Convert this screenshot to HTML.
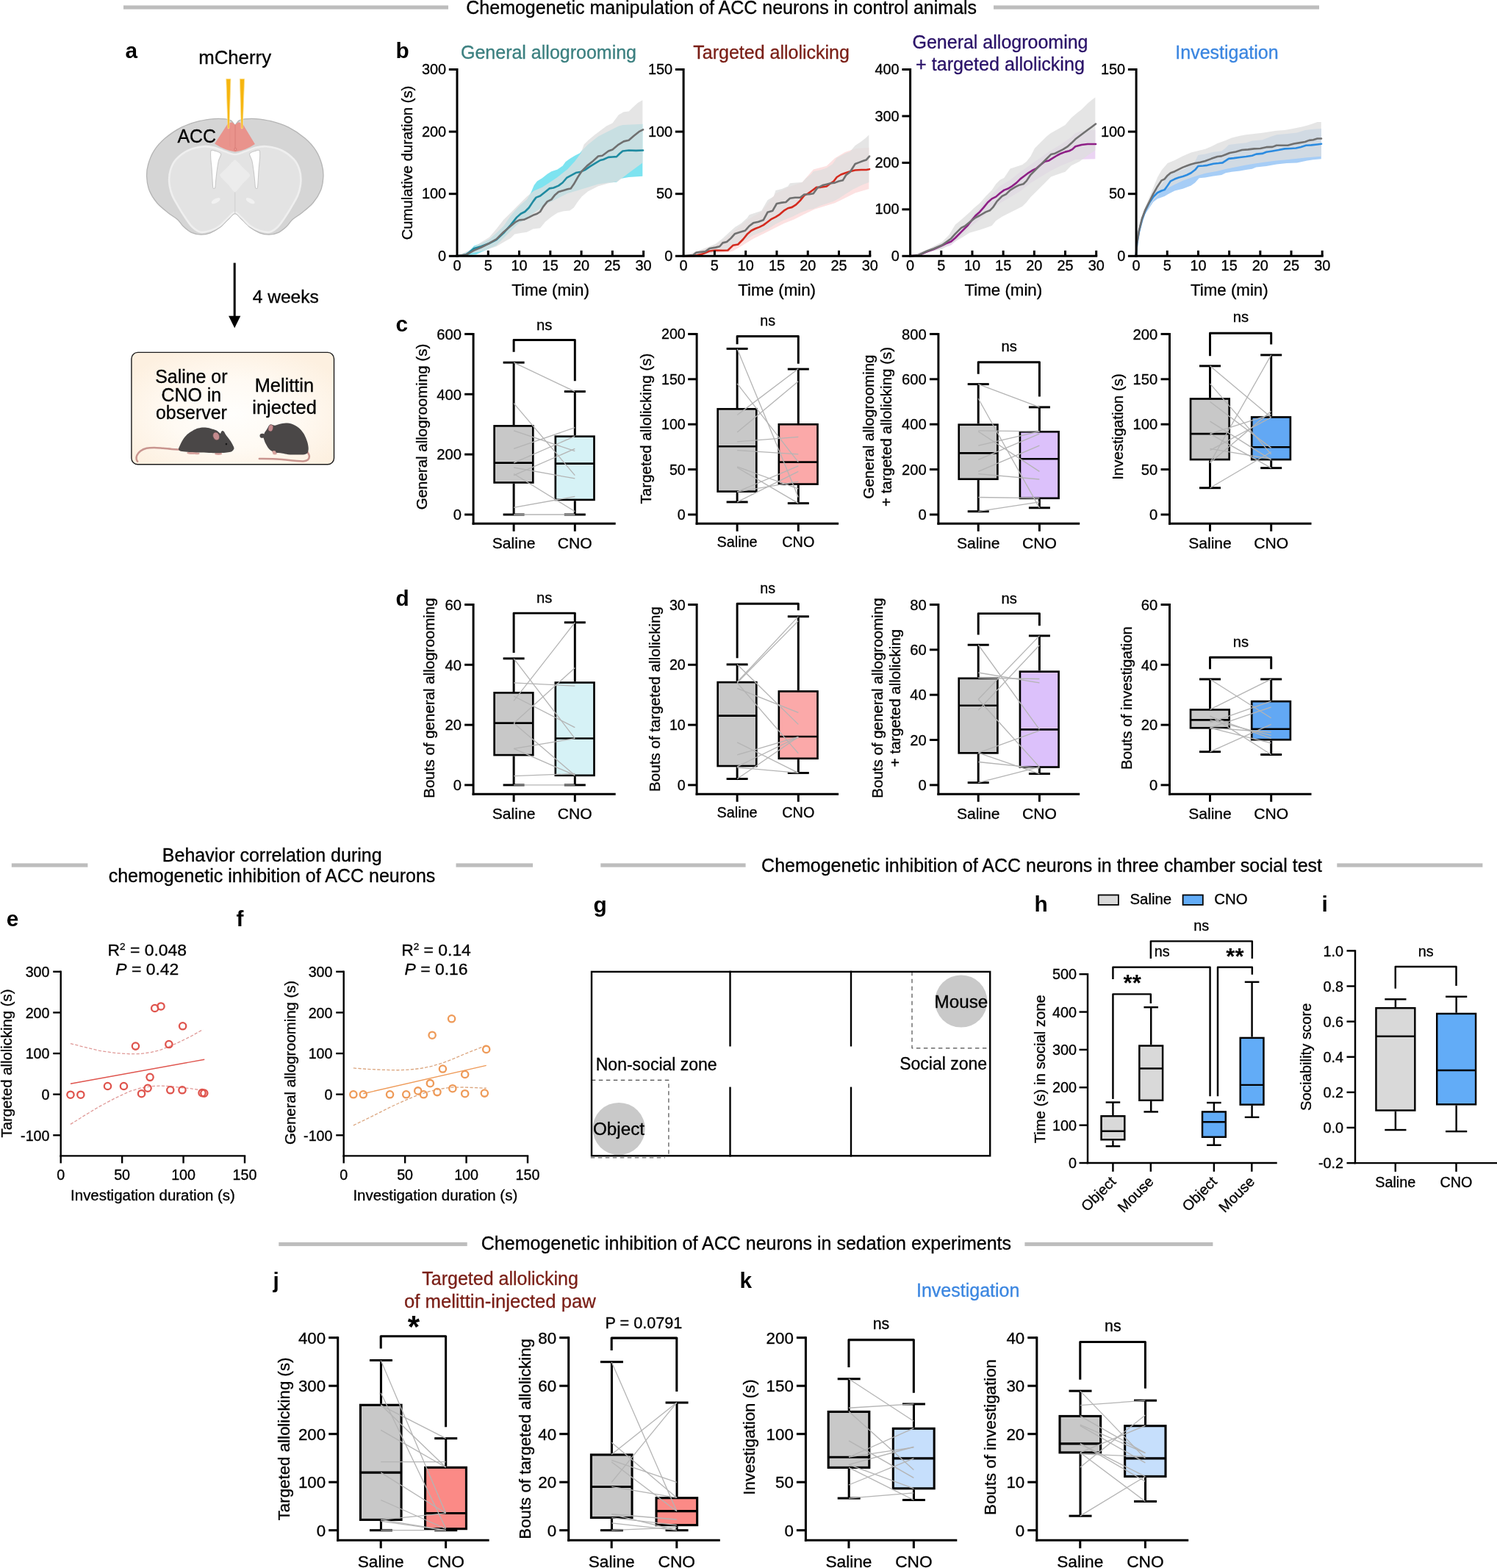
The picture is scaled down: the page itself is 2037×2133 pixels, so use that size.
<!DOCTYPE html>
<html lang="en"><head><meta charset="utf-8"><title>Chemogenetic manipulation of ACC neurons</title>
<style>
html,body{margin:0;padding:0;background:#fff;}
body{width:2037px;height:2133px;overflow:hidden;}
svg{display:block;font-family:'Liberation Sans', sans-serif;}
text{white-space:pre;}
</style></head><body>
<svg width="2037" height="2133" viewBox="0 0 2037 2133">
<rect x="0" y="0" width="2037" height="2133" fill="#fff"/>
<!-- 05_panel_a.py -->
<defs><radialGradient id="cage" cx="50%" cy="55%" r="62%"><stop offset="0" stop-color="#fffefc"/><stop offset="0.5" stop-color="#fffaf3"/><stop offset="1" stop-color="#fdf0e0"/></radialGradient></defs>
<path d="M319.78 169.78 C318.03 169.78 316.73 165.49 314.55 164.18 C312.38 162.87 310.51 162.38 306.72 161.94 C302.92 161.5 297.7 161.1 291.79 161.57 C285.88 162.03 278.73 162.81 271.27 164.74 C263.81 166.67 254.79 169.25 247.01 173.13 C239.24 177.02 230.85 182.77 224.63 188.06 C218.41 193.35 213.53 198.94 209.7 204.85 C205.88 210.76 203.36 217.6 201.68 223.51 C200 229.42 199.38 234.39 199.63 240.3 C199.88 246.21 200.87 253.05 203.17 258.96 C205.47 264.86 209.24 270.71 213.43 275.75 C217.63 280.78 223.69 285.39 228.36 289.18 C233.02 292.97 237.94 295.4 241.42 298.51 C244.9 301.62 246.14 304.91 249.25 307.84 C252.36 310.76 256.09 314.18 260.07 316.04 C264.05 317.91 268.78 318.91 273.13 319.03 C277.49 319.15 281.84 318.41 286.19 316.79 C290.55 315.17 295.21 312.38 299.25 309.33 C303.3 306.28 307.03 301.62 310.45 298.51 C313.87 295.4 316.67 290.67 319.78 290.67 C322.89 290.67 325.68 295.4 329.1 298.51 C332.52 301.62 336.26 306.28 340.3 309.33 C344.34 312.38 349 315.17 353.36 316.79 C357.71 318.41 362.06 319.15 366.42 319.03 C370.77 318.91 375.5 317.91 379.48 316.04 C383.46 314.18 387.19 310.76 390.3 307.84 C393.41 304.91 394.65 301.62 398.13 298.51 C401.62 295.4 406.53 292.97 411.19 289.18 C415.86 285.39 421.92 280.78 426.12 275.75 C430.32 270.71 434.08 264.86 436.38 258.96 C438.68 253.05 439.68 246.21 439.93 240.3 C440.17 234.39 439.55 229.42 437.87 223.51 C436.19 217.6 433.68 210.76 429.85 204.85 C426.03 198.94 421.14 193.35 414.93 188.06 C408.71 182.77 400.31 177.02 392.54 173.13 C384.76 169.25 375.75 166.67 368.28 164.74 C360.82 162.81 353.67 162.03 347.76 161.57 C341.85 161.1 336.63 161.5 332.84 161.94 C329.04 162.38 327.18 162.87 325 164.18 C322.82 165.49 321.52 169.78 319.78 169.78 Z" fill="#d5d5d5" stroke="#b5b5b5" stroke-width="1.3"/>
<path d="M319.78 210.07 C315.42 210.07 311.38 207.9 306.72 206.34 C302.05 204.79 296.77 201.93 291.79 200.75 C286.82 199.56 282.77 198.63 276.87 199.25 C270.96 199.88 262.56 201.52 256.34 204.48 C250.12 207.43 243.59 212.56 239.55 216.98 C235.51 221.39 233.64 226 232.09 230.97 C230.53 235.95 229.91 241.23 230.22 246.83 C230.53 252.43 231.84 258.8 233.96 264.55 C236.07 270.3 239.86 276.06 242.91 281.34 C245.96 286.63 249.07 291.67 252.24 296.27 C255.41 300.87 258.46 305.72 261.94 308.96 C265.42 312.19 269.09 314.86 273.13 315.67 C277.18 316.48 281.84 315.24 286.19 313.81 C290.55 312.38 295.21 310.01 299.25 307.09 C303.3 304.17 307.03 299.32 310.45 296.27 C313.87 293.22 316.67 288.81 319.78 288.81 C322.89 288.81 325.68 293.22 329.1 296.27 C332.52 299.32 336.26 304.17 340.3 307.09 C344.34 310.01 349 312.38 353.36 313.81 C357.71 315.24 362.38 316.48 366.42 315.67 C370.46 314.86 374.13 312.19 377.61 308.96 C381.09 305.72 384.14 300.87 387.31 296.27 C390.49 291.67 393.59 286.63 396.64 281.34 C399.69 276.06 403.48 270.3 405.6 264.55 C407.71 258.8 409.02 252.43 409.33 246.83 C409.64 241.23 409.02 235.95 407.46 230.97 C405.91 226 404.04 221.39 400 216.98 C395.96 212.56 389.43 207.43 383.21 204.48 C376.99 201.52 368.59 199.88 362.69 199.25 C356.78 198.63 352.74 199.56 347.76 200.75 C342.79 201.93 337.5 204.79 332.84 206.34 C328.17 207.9 324.13 210.07 319.78 210.07 Z" fill="#e3e3e3" stroke="#efefef" stroke-width="2.6"/>
<path d="M319.78 217.54 C317.72 217.54 311.57 225.52 309.51 227.61 C307.46 229.7 299.25 236.19 299.25 238.43 C299.25 240.67 307.46 247.72 309.51 250 C311.57 252.28 317.72 261.19 319.78 261.19 C321.83 261.19 327.99 252.28 330.04 250 C332.09 247.72 340.3 240.67 340.3 238.43 C340.3 236.19 332.09 229.7 330.04 227.61 C327.99 225.52 321.83 217.54 319.78 217.54 Z" fill="#ececec" stroke="none" stroke-width="0"/>
<line x1="319.78" y1="261.57" x2="319.78" y2="290.67" stroke="#cfcfcf" stroke-width="1" stroke-linecap="butt"/>
<ellipse cx="293.66" cy="273.13" rx="6.6" ry="2.9" fill="#f1f1f1" transform="rotate(-28 293.66 273.13)"/>
<ellipse cx="340.67" cy="273.13" rx="6.6" ry="2.9" fill="#f1f1f1" transform="rotate(28 340.67 273.13)"/>
<path d="M287.13 204.85 C288.09 203.52 291.75 204.97 293.66 205.6 C295.56 206.22 300.22 207.47 300.75 209.33 C301.27 211.18 298.17 215.55 297.39 218.84 C296.6 222.13 295.67 229.05 295.15 232.84 C294.63 236.62 294 242.76 293.66 245.9 C293.32 249.03 293.25 253.87 292.72 255.22 C292.2 256.58 290.45 257.16 289.93 255.6 C289.4 254.03 289.25 247.74 288.99 244.03 C288.73 240.32 288.37 233.15 288.06 229.1 C287.75 225.06 286.88 218.51 286.75 215.11 C286.62 211.72 286.16 206.18 287.13 204.85 Z" fill="#ffffff" stroke="#c9c9c9" stroke-width="1.1"/>
<path d="M353.17 204.85 C352.21 203.52 348.55 204.97 346.64 205.6 C344.74 206.22 340.07 207.47 339.55 209.33 C339.03 211.18 342.13 215.55 342.91 218.84 C343.69 222.13 344.63 229.05 345.15 232.84 C345.67 236.62 346.3 242.76 346.64 245.9 C346.98 249.03 347.05 253.87 347.57 255.22 C348.1 256.58 349.85 257.16 350.37 255.6 C350.9 254.03 351.04 247.74 351.31 244.03 C351.57 240.32 351.93 233.15 352.24 229.1 C352.55 225.06 353.41 218.51 353.54 215.11 C353.68 211.72 354.14 206.18 353.17 204.85 Z" fill="#ffffff" stroke="#c9c9c9" stroke-width="1.1"/>
<path d="M310.08 168.08 L315.52 166.32 L320 169.68 L324.48 166.32 L329.92 168.08 L346.88 195.92 Q333.6 204.88 320 206.48 Q306.4 204.88 292.16 195.6 Z" fill="#e9938c" stroke="none" stroke-width="0"/>
<line x1="320" y1="170" x2="320" y2="201.68" stroke="#d57a73" stroke-width="0.8" stroke-linecap="butt"/>
<line x1="312.8" y1="171.6" x2="312.8" y2="199.6" stroke="#e08a82" stroke-width="0.6" stroke-linecap="butt"/>
<circle cx="320.32" cy="203.12" r="1.6" fill="#ee9d96" stroke="#cf6f68" stroke-width="0.7"/>
<path d="M307.81 107.33 L313.91 107.33 L311.83 174.82 L310.03 174.82 Z" fill="#f6b50e" stroke="#fbe08f" stroke-width="0.8" stroke-linejoin="round"/>
<path d="M326.38 107.33 L332.62 107.33 L330.12 174.82 L328.32 174.82 Z" fill="#f6b50e" stroke="#fbe08f" stroke-width="0.8" stroke-linejoin="round"/>
<text x="319.6" y="87.2" font-size="25.8" text-anchor="middle" stroke="#000" stroke-width="0.32">mCherry</text>
<text x="267.7" y="194" font-size="24.9" text-anchor="middle" stroke="#000" stroke-width="0.32">ACC</text>
<line x1="319.2" y1="357.6" x2="319.2" y2="432" stroke="#000" stroke-width="3" stroke-linecap="butt"/>
<path d="M311.1 429.8 L327.3 429.8 L319.2 446.2 Z" fill="#000" stroke="none" stroke-width="0" stroke-linejoin="round"/>
<text x="388.8" y="411.6" font-size="24.6" text-anchor="middle" stroke="#000" stroke-width="0.32">4 weeks</text>
<rect x="178.9" y="479.4" width="275.6" height="152.3" fill="url(#cage)" stroke="#1c1c1c" stroke-width="1.4" rx="8.5" ry="8.5"/>
<text x="260.4" y="521.1" font-size="24.9" text-anchor="middle" stroke="#000" stroke-width="0.32">Saline or</text>
<text x="260.3" y="545.5" font-size="24.9" text-anchor="middle" stroke="#000" stroke-width="0.32">CNO in</text>
<text x="260.4" y="569.9" font-size="24.9" text-anchor="middle" stroke="#000" stroke-width="0.32">observer</text>
<text x="386.9" y="532.8" font-size="25.4" text-anchor="middle" stroke="#000" stroke-width="0.32">Melittin</text>
<text x="387" y="562.9" font-size="25.4" text-anchor="middle" stroke="#000" stroke-width="0.32">injected</text>
<path d="M244.18 611.57 C242.44 611.47 237.46 611.27 233.73 610.97 C230 610.67 225.77 610.12 221.79 609.78 C217.81 609.43 213.58 608.88 209.85 608.88 C206.12 608.88 202.51 609 199.4 609.78 C196.29 610.55 193.38 611.89 191.19 613.51 C189 615.12 187.19 617.61 186.27 619.48 C185.35 621.34 185.52 623.33 185.67 624.7 C185.82 626.07 186.92 627.19 187.16 627.69" fill="none" stroke="#c9958f" stroke-width="2.5" stroke-linecap="round"/>
<ellipse cx="261.34" cy="616.19" rx="7" ry="1.9" fill="#d6a29d" transform="rotate(0 261.34 616.19)"/>
<ellipse cx="297.16" cy="617.24" rx="5" ry="1.7" fill="#d6a29d" transform="rotate(0 297.16 617.24)"/>
<ellipse cx="268.06" cy="616.94" rx="3.5" ry="1.4" fill="#d6a29d" transform="rotate(0 268.06 616.94)"/>
<path d="M318.51 609.78 C318.46 608.66 317.43 606.75 316.72 605.3 C316 603.84 314.76 601.64 313.73 600.07 C312.7 598.51 310.88 596.26 309.85 594.85 C308.82 593.44 307.58 591.79 306.87 590.67 C306.15 589.55 305.66 588.1 305.07 587.39 C304.49 586.67 303.57 585.94 302.99 585.9 C302.4 585.85 301.66 586.51 301.19 587.09 C300.72 587.67 300.68 589.91 299.85 589.78 C299.02 589.64 297.08 587.04 295.67 586.19 C294.26 585.34 292.13 584.71 290.45 584.1 C288.77 583.5 286.49 582.57 284.48 582.16 C282.46 581.76 279.25 581.35 277.01 581.42 C274.78 581.49 271.79 581.94 269.55 582.61 C267.31 583.28 264.33 584.62 262.09 585.9 C259.85 587.17 256.64 589.22 254.63 591.12 C252.61 593.02 250.18 596.23 248.66 598.58 C247.13 600.93 245.33 604.89 244.48 606.79 C243.63 608.69 242.76 610.24 242.99 611.27 C243.21 612.3 244.22 613.14 245.97 613.66 C247.72 614.17 251.09 614.43 254.63 614.7 C258.16 614.97 265.07 615.27 269.55 615.45 C274.03 615.63 280.45 615.78 284.48 615.9 C288.51 616.01 293.06 616.22 296.42 616.19 C299.78 616.17 304.29 615.95 306.87 615.75 C309.44 615.54 312.06 615.3 313.58 614.85 C315.1 614.4 316.28 613.52 317.01 612.76 C317.75 612 318.55 610.9 318.51 609.78 Z" fill="#4a4747" stroke="none" stroke-width="0"/>
<ellipse cx="294.18" cy="593.36" rx="4.3" ry="5.6" fill="#c58b8e" transform="rotate(-22 294.18 593.36)" stroke="#5b4a4b" stroke-width="0.7"/>
<ellipse cx="307.91" cy="604.1" rx="1.3" ry="1.3" fill="#161616" transform="rotate(0 307.91 604.1)"/>
<path d="M418.21 614.55 C418.66 615.55 420.8 618.71 420.9 620.52 C421 622.34 420.15 624.3 418.81 625.45 C417.46 626.59 415.82 627.16 412.84 627.39 C409.85 627.61 405.37 627.14 400.9 626.79 C396.42 626.44 390.95 625.72 385.97 625.3 C381 624.88 376.57 624.45 371.04 624.25 C365.52 624.05 355.87 624.13 352.84 624.1" fill="none" stroke="#c9958f" stroke-width="2.5" stroke-linecap="round"/>
<ellipse cx="356.87" cy="592.76" rx="3.4" ry="3.1" fill="#4a4747" transform="rotate(0 356.87 592.76)"/>
<path d="M358.51 594.25 C358.55 592.78 359.2 590.36 359.85 588.88 C360.5 587.4 361.94 585.75 362.84 584.4 C363.73 583.06 364.86 580.87 365.82 579.93 C366.78 578.99 368.02 578.31 369.25 578.13 C370.49 577.96 372.42 578.91 374.03 578.73 C375.64 578.55 377.76 577.43 380 576.94 C382.24 576.45 386.27 575.45 388.96 575.45 C391.64 575.45 395.22 575.93 397.91 576.94 C400.6 577.95 404.51 580.15 406.87 582.16 C409.22 584.18 411.9 587.57 413.58 590.37 C415.26 593.17 417.14 597.91 418.06 600.82 C418.98 603.73 419.63 607.49 419.7 609.78 C419.77 612.06 419.31 614.79 418.51 616.04 C417.7 617.3 416.52 617.75 414.33 618.13 C412.13 618.51 407.24 618.58 403.88 618.58 C400.52 618.58 394.85 618.4 391.94 618.13 C389.03 617.87 386.49 617.1 384.48 616.79 C382.46 616.48 380.19 616.29 378.51 616.04 C376.83 615.8 374.74 615.6 373.28 615.15 C371.83 614.7 370.04 613.91 368.81 613.06 C367.57 612.21 366.13 610.82 365.07 609.48 C364.02 608.13 362.62 605.72 361.79 604.1 C360.96 602.49 360.04 600.21 359.55 598.73 C359.06 597.25 358.46 595.73 358.51 594.25 Z" fill="#4a4747" stroke="none" stroke-width="0"/>
<ellipse cx="368.36" cy="582.31" rx="3.3" ry="4.7" fill="#c58b8e" transform="rotate(14 368.36 582.31)" stroke="#5b4a4b" stroke-width="0.7"/>
<ellipse cx="372.84" cy="614.85" rx="2.6" ry="1.8" fill="#d6a29d" transform="rotate(0 372.84 614.85)"/>
<ellipse cx="374.03" cy="617.09" rx="3" ry="1.3" fill="#d6a29d" transform="rotate(0 374.03 617.09)"/>
<!-- 10_headers.py -->
<rect x="168" y="7.4" width="442" height="5.2" fill="#bdbdbd" stroke="none" stroke-width="0"/>
<rect x="1352" y="7.4" width="443" height="5.2" fill="#bdbdbd" stroke="none" stroke-width="0"/>
<text x="981.7" y="18.9" font-size="25" text-anchor="middle" stroke="#000" stroke-width="0.32">Chemogenetic manipulation of ACC neurons in control animals</text>
<rect x="15.8" y="1174.4" width="103.6" height="5.2" fill="#bdbdbd" stroke="none" stroke-width="0"/>
<rect x="620.5" y="1174.4" width="104.5" height="5.2" fill="#bdbdbd" stroke="none" stroke-width="0"/>
<text x="370.2" y="1172.2" font-size="25" text-anchor="middle" stroke="#000" stroke-width="0.32">Behavior correlation during</text>
<text x="370" y="1200.4" font-size="25" text-anchor="middle" stroke="#000" stroke-width="0.32">chemogenetic inhibition of ACC neurons</text>
<rect x="817.3" y="1174.4" width="197.3" height="5.2" fill="#bdbdbd" stroke="none" stroke-width="0"/>
<rect x="1819.3" y="1174.4" width="198.1" height="5.2" fill="#bdbdbd" stroke="none" stroke-width="0"/>
<text x="1036.1" y="1185.5" font-size="25" text-anchor="start" stroke="#000" stroke-width="0.32">Chemogenetic inhibition of ACC neurons in three chamber social test</text>
<rect x="379.3" y="1689.9" width="256.4" height="5.2" fill="#bdbdbd" stroke="none" stroke-width="0"/>
<rect x="1394.4" y="1689.9" width="256" height="5.2" fill="#bdbdbd" stroke="none" stroke-width="0"/>
<text x="654.8" y="1700.3" font-size="25" text-anchor="start" stroke="#000" stroke-width="0.32">Chemogenetic inhibition of ACC neurons in sedation experiments</text>
<text x="170.5" y="78.8" font-size="29.8" text-anchor="start" font-weight="bold">a</text>
<text x="538.5" y="79.3" font-size="29.8" text-anchor="start" font-weight="bold">b</text>
<text x="538.5" y="451.3" font-size="29.8" text-anchor="start" font-weight="bold">c</text>
<text x="538.5" y="824.1" font-size="29.8" text-anchor="start" font-weight="bold">d</text>
<text x="8.8" y="1260" font-size="29.8" text-anchor="start" font-weight="bold">e</text>
<text x="321.5" y="1260" font-size="29.8" text-anchor="start" font-weight="bold">f</text>
<text x="807.5" y="1241.4" font-size="29.8" text-anchor="start" font-weight="bold">g</text>
<text x="1407.5" y="1239.9" font-size="29.8" text-anchor="start" font-weight="bold">h</text>
<text x="1798.5" y="1239.9" font-size="29.8" text-anchor="start" font-weight="bold">i</text>
<text x="371.5" y="1752.3" font-size="29.8" text-anchor="start" font-weight="bold">j</text>
<text x="1006.5" y="1752.3" font-size="29.8" text-anchor="start" font-weight="bold">k</text>
<!-- 20_panel_b.py -->
<path d="M621.94 348.3 L638.02 342.06 L644.95 334.44 L654.65 330.97 L665.74 325.43 L675.44 317.11 L685.14 307.41 L694.84 293.55 L703.16 283.85 L708.7 278.3 L717.02 271.37 L722.56 261.67 L726.72 251.97 L730.88 246.42 L737.81 242.27 L744.74 236.72 L750.28 233.26 L758.6 230.49 L765.53 225.63 L769.69 220.09 L775.23 215.93 L782.16 211.77 L789.09 208.31 L791.86 204.84 L800.18 196.53 L814.04 185.44 L827.9 178.51 L841.76 171.58 L847.3 169.92 L874.33 168.81 L874.33 239.77 L855.62 240.88 L844.53 242.96 L838.99 247.81 L827.9 248.5 L814.04 250.58 L800.18 254.74 L786.32 258.9 L772.46 263.06 L758.6 269.99 L744.74 276.92 L730.88 286.62 L717.02 296.32 L703.16 306.02 L694.84 314.34 L685.14 324.04 L675.44 333.74 L665.74 337.9 L647.72 346.22 L621.94 348.3 Z" fill="#6fe0ee" stroke="none" stroke-width="0" stroke-linejoin="round" fill-opacity="0.9"/>
<path d="M621.94 348.3 L640.79 339.29 L654.65 329.58 L665.74 322.65 L675.44 311.57 L685.14 299.09 L694.84 289.39 L703.16 281.07 L708.7 275.53 L717.02 267.21 L726.72 259.59 L737.81 254.74 L747.51 248.5 L758.6 240.88 L772.46 230.07 L782.16 219.4 L790.48 208.31 L794.64 196.53 L800.18 190.98 L808.5 184.05 L816.81 177.82 L825.13 171.58 L833.44 167.42 L841.76 156.33 L848.69 152.18 L855.62 151.48 L861.16 145.94 L868.09 139.7 L874.33 136.24 L874.33 221.48 L855.62 235.34 L840.37 247.12 L827.9 249.2 L814.04 253.35 L800.18 260.28 L791.86 267.21 L786.32 274.14 L780.78 282.46 L775.23 286.62 L766.92 287.31 L758.6 289.39 L750.28 294.93 L741.97 301.86 L735.04 310.18 L725.34 311.57 L717.02 315.72 L708.7 317.11 L700.39 318.5 L694.84 324.04 L685.14 329.58 L675.44 335.13 L654.65 342.06 L621.94 348.3 Z" fill="#dedede" stroke="none" stroke-width="0" stroke-linejoin="round" fill-opacity="0.78"/>
<path d="M621.94 348.3 L633.86 346.49 L638.02 343.44 L644.95 337.9 L654.65 335.13 L665.74 330.97 L675.44 326.12 L685.14 317.11 L694.84 306.02 L703.16 295.63 L708.7 290.78 L714.25 288 L719.79 282.46 L725.34 274.14 L729.49 268.6 L735.04 266.52 L741.97 260.98 L747.51 256.4 L753.06 255.43 L759.99 252.66 L765.53 248.5 L771.07 241.99 L778 238.11 L783.55 235.06 L790.48 233.67 L796.02 231.18 L802.95 226.33 L809.88 222.17 L816.81 218.01 L820.97 217.04 L827.9 213.85 L833.44 213.44 L838.99 213.16 L843.15 209 L847.3 205.54 L855.62 204.57 L865.32 204.84 L875.02 204.43" fill="none" stroke="#1e8aa0" stroke-width="2.6" stroke-linejoin="round" stroke-linecap="round"/>
<path d="M621.94 348.3 L635.25 346.22 L644.95 340.67 L654.65 336.51 L665.74 330.97 L675.44 325.43 L685.14 315.72 L694.84 307.41 L701.77 301.86 L706.63 299.37 L712.86 298.81 L719.79 295.63 L726.72 292.16 L730.88 290.78 L735.04 288 L739.2 281.07 L744.74 274.14 L750.28 271.37 L755.14 265.14 L759.99 260.98 L766.92 258.9 L772.46 257.23 L776.62 256.4 L780.78 250.58 L786.32 240.88 L791.86 232.56 L798.79 225.63 L805.72 220.09 L814.04 212.47 L819.58 211.77 L827.9 205.54 L833.44 203.46 L841.76 196.53 L848.69 192.37 L855.62 190.71 L862.55 184.75 L869.48 179.2 L875.02 176.43" fill="none" stroke="#707070" stroke-width="2.6" stroke-linejoin="round" stroke-linecap="round"/>
<line x1="622" y1="93" x2="622" y2="349.8" stroke="#000" stroke-width="3" stroke-linecap="butt"/>
<line x1="620.5" y1="348.3" x2="877.1" y2="348.3" stroke="#000" stroke-width="3" stroke-linecap="butt"/>
<line x1="610.8" y1="348.3" x2="622" y2="348.3" stroke="#000" stroke-width="3" stroke-linecap="butt"/>
<text x="607.1" y="354.9" font-size="19.9" text-anchor="end" stroke="#000" stroke-width="0.32">0</text>
<line x1="610.8" y1="263.7" x2="622" y2="263.7" stroke="#000" stroke-width="3" stroke-linecap="butt"/>
<text x="607.1" y="270.3" font-size="19.9" text-anchor="end" stroke="#000" stroke-width="0.32">100</text>
<line x1="610.8" y1="179.1" x2="622" y2="179.1" stroke="#000" stroke-width="3" stroke-linecap="butt"/>
<text x="607.1" y="185.7" font-size="19.9" text-anchor="end" stroke="#000" stroke-width="0.32">200</text>
<line x1="610.8" y1="94.5" x2="622" y2="94.5" stroke="#000" stroke-width="3" stroke-linecap="butt"/>
<text x="607.1" y="101.1" font-size="19.9" text-anchor="end" stroke="#000" stroke-width="0.32">300</text>
<text x="622" y="368.4" font-size="19.9" text-anchor="middle" stroke="#000" stroke-width="0.32">0</text>
<line x1="664.27" y1="340.8" x2="664.27" y2="348.3" stroke="#000" stroke-width="3" stroke-linecap="butt"/>
<text x="664.27" y="368.4" font-size="19.9" text-anchor="middle" stroke="#000" stroke-width="0.32">5</text>
<line x1="706.53" y1="340.8" x2="706.53" y2="348.3" stroke="#000" stroke-width="3" stroke-linecap="butt"/>
<text x="706.53" y="368.4" font-size="19.9" text-anchor="middle" stroke="#000" stroke-width="0.32">10</text>
<line x1="748.8" y1="340.8" x2="748.8" y2="348.3" stroke="#000" stroke-width="3" stroke-linecap="butt"/>
<text x="748.8" y="368.4" font-size="19.9" text-anchor="middle" stroke="#000" stroke-width="0.32">15</text>
<line x1="791.07" y1="340.8" x2="791.07" y2="348.3" stroke="#000" stroke-width="3" stroke-linecap="butt"/>
<text x="791.07" y="368.4" font-size="19.9" text-anchor="middle" stroke="#000" stroke-width="0.32">20</text>
<line x1="833.33" y1="340.8" x2="833.33" y2="348.3" stroke="#000" stroke-width="3" stroke-linecap="butt"/>
<text x="833.33" y="368.4" font-size="19.9" text-anchor="middle" stroke="#000" stroke-width="0.32">25</text>
<line x1="875.6" y1="340.8" x2="875.6" y2="348.3" stroke="#000" stroke-width="3" stroke-linecap="butt"/>
<text x="875.6" y="368.4" font-size="19.9" text-anchor="middle" stroke="#000" stroke-width="0.32">30</text>
<text x="749" y="401.5" font-size="22.3" text-anchor="middle" stroke="#000" stroke-width="0.32">Time (min)</text>
<text x="746.5" y="79.9" font-size="25" text-anchor="middle" fill="#3c8080" stroke="#3c8080" stroke-width="0.32">General allogrooming</text>
<text x="560.8" y="221.5" font-size="20.3" text-anchor="middle" stroke="#000" stroke-width="0.32" transform="rotate(-90 560.8 221.5)">Cumulative duration (s)</text>
<path d="M930.08 348.4 L947.4 342.86 L973.74 333.85 L983.44 326.92 L1000.07 313.06 L1016.7 299.2 L1036.11 288.11 L1044.42 277.02 L1055.51 263.16 L1072.14 254.84 L1091.55 247.91 L1106.79 230.59 L1124.81 225.74 L1135.9 215.34 L1149.76 207.03 L1163.62 202.18 L1182.33 200.79 L1182.33 256.92 L1163.62 262.47 L1149.76 269.4 L1135.9 276.33 L1108.18 284.64 L1094.32 291.57 L1080.46 298.5 L1066.6 304.05 L1052.74 310.98 L1038.88 317.91 L1025.02 324.84 L1011.16 333.15 L997.3 341.47 L990.37 343.27 L930.08 348.4 Z" fill="#fcdcdc" stroke="none" stroke-width="0" stroke-linejoin="round" fill-opacity="0.85"/>
<path d="M930.08 348.4 L947.4 342.16 L965.42 335.23 L973.74 331.77 L983.44 324.14 L991.76 316.52 L1000.07 308.9 L1008.39 304.05 L1016.7 296.42 L1019.48 292.27 L1027.79 289.49 L1036.11 286.72 L1041.65 277.02 L1044.42 272.17 L1052.74 267.32 L1055.51 259 L1063.83 256.92 L1072.14 253.46 L1074.92 249.3 L1083.23 248.61 L1091.55 247.91 L1097.09 242.37 L1104.02 236.83 L1106.79 233.36 L1116.5 231.28 L1124.81 228.51 L1133.13 222.97 L1138.67 214.65 L1149.76 209.11 L1156.69 206.33 L1163.62 198.02 L1171.94 192.47 L1178.87 186.93 L1182.33 183.47 L1182.33 247.91 L1171.94 252.07 L1160.85 257.62 L1149.76 264.55 L1141.44 270.09 L1133.13 274.25 L1124.81 277.02 L1116.5 279.79 L1106.79 283.95 L1099.86 285.34 L1088.78 289.49 L1077.69 295.04 L1066.6 299.2 L1055.51 304.74 L1044.42 311.67 L1036.11 315.83 L1025.02 319.99 L1011.16 328.3 L1000.07 333.85 L990.37 340.78 L973.74 343.55 L930.08 348.4 Z" fill="#dedede" stroke="none" stroke-width="0" stroke-linejoin="round" fill-opacity="0.78"/>
<path d="M930.08 348.4 L944.63 347.98 L955.72 345.63 L965.42 341.47 L973.74 340.5 L983.44 340.78 L990.37 340.5 L997.3 333.85 L1004.23 332.46 L1011.16 325.53 L1016.7 318.6 L1022.25 313.75 L1027.79 310.98 L1033.34 308.9 L1038.88 306.13 L1044.42 301.97 L1049.97 297.81 L1055.51 295.04 L1061.06 291.57 L1066.6 286.72 L1072.14 283.26 L1077.69 281.87 L1083.23 278.41 L1088.78 272.86 L1094.32 265.93 L1099.86 263.16 L1105.41 259 L1110.95 254.84 L1116.5 254.84 L1124.81 253.46 L1130.36 249.3 L1134.51 246.53 L1138.67 240.98 L1144.22 237.52 L1149.76 235.44 L1156.69 233.36 L1163.62 231.56 L1171.94 231 L1178.87 231 L1183.02 230.17" fill="none" stroke="#d42a1e" stroke-width="2.6" stroke-linejoin="round" stroke-linecap="round"/>
<path d="M930.08 348.4 L943.25 347.01 L947.4 343.55 L959.88 342.16 L965.42 338 L973.74 336.62 L979.28 335.23 L983.44 330.38 L988.98 329 L994.53 324.14 L1000.07 317.91 L1007 315.83 L1013.93 313.75 L1019.48 307.51 L1025.02 303.35 L1031.95 301.69 L1038.88 299.2 L1044.42 288.8 L1051.35 286.72 L1056.9 277.02 L1063.83 275.63 L1069.37 274.94 L1074.92 269.81 L1081.85 268.7 L1088.78 268.7 L1094.32 264.55 L1101.25 264.27 L1106.79 263.16 L1112.34 255.54 L1119.27 252.07 L1124.81 250.69 L1130.36 249.3 L1135.9 248.61 L1141.44 246.53 L1146.99 245.14 L1151.15 238.21 L1156.69 234.05 L1163.62 222.97 L1169.16 220.89 L1174.71 218.81 L1178.87 217.42 L1183.02 212.57" fill="none" stroke="#707070" stroke-width="2.6" stroke-linejoin="round" stroke-linecap="round"/>
<line x1="930.1" y1="93" x2="930.1" y2="349.8" stroke="#000" stroke-width="3" stroke-linecap="butt"/>
<line x1="928.6" y1="348.3" x2="1185.3" y2="348.3" stroke="#000" stroke-width="3" stroke-linecap="butt"/>
<line x1="918.9" y1="348.3" x2="930.1" y2="348.3" stroke="#000" stroke-width="3" stroke-linecap="butt"/>
<text x="915.2" y="354.9" font-size="19.9" text-anchor="end" stroke="#000" stroke-width="0.32">0</text>
<line x1="918.9" y1="263.7" x2="930.1" y2="263.7" stroke="#000" stroke-width="3" stroke-linecap="butt"/>
<text x="915.2" y="270.3" font-size="19.9" text-anchor="end" stroke="#000" stroke-width="0.32">50</text>
<line x1="918.9" y1="179.1" x2="930.1" y2="179.1" stroke="#000" stroke-width="3" stroke-linecap="butt"/>
<text x="915.2" y="185.7" font-size="19.9" text-anchor="end" stroke="#000" stroke-width="0.32">100</text>
<line x1="918.9" y1="94.5" x2="930.1" y2="94.5" stroke="#000" stroke-width="3" stroke-linecap="butt"/>
<text x="915.2" y="101.1" font-size="19.9" text-anchor="end" stroke="#000" stroke-width="0.32">150</text>
<text x="930.1" y="368.4" font-size="19.9" text-anchor="middle" stroke="#000" stroke-width="0.32">0</text>
<line x1="972.38" y1="340.8" x2="972.38" y2="348.3" stroke="#000" stroke-width="3" stroke-linecap="butt"/>
<text x="972.38" y="368.4" font-size="19.9" text-anchor="middle" stroke="#000" stroke-width="0.32">5</text>
<line x1="1014.67" y1="340.8" x2="1014.67" y2="348.3" stroke="#000" stroke-width="3" stroke-linecap="butt"/>
<text x="1014.67" y="368.4" font-size="19.9" text-anchor="middle" stroke="#000" stroke-width="0.32">10</text>
<line x1="1056.95" y1="340.8" x2="1056.95" y2="348.3" stroke="#000" stroke-width="3" stroke-linecap="butt"/>
<text x="1056.95" y="368.4" font-size="19.9" text-anchor="middle" stroke="#000" stroke-width="0.32">15</text>
<line x1="1099.23" y1="340.8" x2="1099.23" y2="348.3" stroke="#000" stroke-width="3" stroke-linecap="butt"/>
<text x="1099.23" y="368.4" font-size="19.9" text-anchor="middle" stroke="#000" stroke-width="0.32">20</text>
<line x1="1141.52" y1="340.8" x2="1141.52" y2="348.3" stroke="#000" stroke-width="3" stroke-linecap="butt"/>
<text x="1141.52" y="368.4" font-size="19.9" text-anchor="middle" stroke="#000" stroke-width="0.32">25</text>
<line x1="1183.8" y1="340.8" x2="1183.8" y2="348.3" stroke="#000" stroke-width="3" stroke-linecap="butt"/>
<text x="1183.8" y="368.4" font-size="19.9" text-anchor="middle" stroke="#000" stroke-width="0.32">30</text>
<text x="1057.15" y="401.5" font-size="22.3" text-anchor="middle" stroke="#000" stroke-width="0.32">Time (min)</text>
<text x="1049.6" y="79.9" font-size="25" text-anchor="middle" fill="#7a1f17" stroke="#7a1f17" stroke-width="0.32">Targeted allolicking</text>
<path d="M1238.49 348.41 L1260.95 340.37 L1281.74 330.67 L1294.21 325.13 L1308.07 311.27 L1319.16 298.79 L1327.48 289.09 L1333.02 283.55 L1341.34 272.46 L1349.65 264.14 L1360.74 253.06 L1374.6 244.74 L1388.46 233.65 L1402.32 223.95 L1416.18 214.25 L1430.04 204.55 L1443.9 196.23 L1457.76 186.53 L1463.3 180.98 L1471.62 178.21 L1490.33 176.83 L1490.33 216.33 L1463.3 217.02 L1457.76 219.79 L1443.9 225.34 L1430.04 232.27 L1416.18 240.58 L1402.32 248.9 L1388.46 259.99 L1374.6 268.3 L1360.74 276.62 L1346.88 286.32 L1333.02 298.79 L1319.16 309.88 L1308.07 320.97 L1294.21 333.44 L1281.74 337.6 L1238.49 348.41 Z" fill="#e9cff2" stroke="none" stroke-width="0" stroke-linejoin="round" fill-opacity="0.9"/>
<path d="M1238.49 348.41 L1260.95 339.68 L1281.74 329.29 L1291.44 319.58 L1299.76 305.72 L1308.07 298.79 L1319.16 289.09 L1324.7 283.55 L1333.02 276.62 L1341.34 266.92 L1349.65 258.6 L1355.2 250.28 L1360.74 244.74 L1366.28 241.97 L1374.6 229.49 L1382.92 226.72 L1391.23 223.95 L1396.78 219.79 L1402.32 212.86 L1407.86 201.77 L1416.18 193.46 L1424.5 185.14 L1430.04 180.98 L1441.13 174.75 L1449.44 169.9 L1457.76 160.19 L1466.08 153.26 L1471.62 149.11 L1479.94 140.79 L1485.48 135.94 L1490.33 132.47 L1490.33 204.55 L1479.94 211.48 L1468.85 219.79 L1457.76 225.34 L1449.44 233.65 L1441.13 236.42 L1430.04 240.58 L1421.72 248.9 L1410.64 259.99 L1402.32 268.3 L1396.78 275.23 L1391.23 280.78 L1382.92 284.93 L1371.83 290.48 L1363.51 294.64 L1355.2 300.18 L1349.65 307.11 L1341.34 309.88 L1333.02 312.65 L1319.16 316.81 L1308.07 323.74 L1298.37 329.29 L1281.74 338.99 L1238.49 348.41 Z" fill="#dedede" stroke="none" stroke-width="0" stroke-linejoin="round" fill-opacity="0.78"/>
<path d="M1238.49 348.41 L1249.86 347.3 L1260.95 342.45 L1270.65 338.99 L1281.74 334.14 L1288.67 330.67 L1294.21 328.59 L1299.76 323.74 L1308.07 315.43 L1316.39 307.11 L1321.93 300.18 L1327.48 293.25 L1333.02 288.4 L1338.56 282.16 L1344.11 275.23 L1349.65 270.38 L1355.2 267.61 L1360.74 262.76 L1366.28 258.6 L1371.83 256.52 L1377.37 253.06 L1382.92 248.9 L1388.46 243.35 L1394 239.2 L1399.55 235.04 L1405.09 231.57 L1410.64 228.8 L1416.18 223.95 L1421.72 219.79 L1427.27 218.41 L1432.81 214.94 L1438.36 211.48 L1443.9 208.7 L1449.44 206.63 L1454.99 205.24 L1459.15 203.16 L1463.3 199.28 L1471.62 196.92 L1479.94 195.95 L1491.02 195.95" fill="none" stroke="#8e1f86" stroke-width="2.6" stroke-linejoin="round" stroke-linecap="round"/>
<path d="M1238.49 348.41 L1249.86 347.03 L1260.95 341.76 L1270.65 338.3 L1281.74 333.44 L1291.44 326.51 L1294.21 324.44 L1299.76 318.2 L1308.07 309.88 L1313.62 307.11 L1321.93 300.18 L1327.48 296.02 L1333.02 293.25 L1341.34 288.4 L1346.88 286.32 L1351.04 282.16 L1356.58 273.85 L1363.51 266.92 L1369.06 264.14 L1374.6 258.6 L1381.53 254.44 L1387.07 251.67 L1392.62 250.28 L1396.78 246.13 L1402.32 237.81 L1409.25 230.88 L1416.18 223.95 L1423.11 217.02 L1430.04 210.09 L1435.58 208.7 L1441.13 205.93 L1446.67 203.16 L1452.22 199.7 L1457.76 194.84 L1463.3 189.3 L1471.62 183.06 L1479.94 176.83 L1485.48 172.67 L1491.02 168.51" fill="none" stroke="#707070" stroke-width="2.6" stroke-linejoin="round" stroke-linecap="round"/>
<line x1="1238.6" y1="93" x2="1238.6" y2="349.8" stroke="#000" stroke-width="3" stroke-linecap="butt"/>
<line x1="1237.1" y1="348.3" x2="1493.2" y2="348.3" stroke="#000" stroke-width="3" stroke-linecap="butt"/>
<line x1="1227.4" y1="348.3" x2="1238.6" y2="348.3" stroke="#000" stroke-width="3" stroke-linecap="butt"/>
<text x="1223.7" y="354.9" font-size="19.9" text-anchor="end" stroke="#000" stroke-width="0.32">0</text>
<line x1="1227.4" y1="284.85" x2="1238.6" y2="284.85" stroke="#000" stroke-width="3" stroke-linecap="butt"/>
<text x="1223.7" y="291.45" font-size="19.9" text-anchor="end" stroke="#000" stroke-width="0.32">100</text>
<line x1="1227.4" y1="221.4" x2="1238.6" y2="221.4" stroke="#000" stroke-width="3" stroke-linecap="butt"/>
<text x="1223.7" y="228" font-size="19.9" text-anchor="end" stroke="#000" stroke-width="0.32">200</text>
<line x1="1227.4" y1="157.95" x2="1238.6" y2="157.95" stroke="#000" stroke-width="3" stroke-linecap="butt"/>
<text x="1223.7" y="164.55" font-size="19.9" text-anchor="end" stroke="#000" stroke-width="0.32">300</text>
<line x1="1227.4" y1="94.5" x2="1238.6" y2="94.5" stroke="#000" stroke-width="3" stroke-linecap="butt"/>
<text x="1223.7" y="101.1" font-size="19.9" text-anchor="end" stroke="#000" stroke-width="0.32">400</text>
<text x="1238.6" y="368.4" font-size="19.9" text-anchor="middle" stroke="#000" stroke-width="0.32">0</text>
<line x1="1280.78" y1="340.8" x2="1280.78" y2="348.3" stroke="#000" stroke-width="3" stroke-linecap="butt"/>
<text x="1280.78" y="368.4" font-size="19.9" text-anchor="middle" stroke="#000" stroke-width="0.32">5</text>
<line x1="1322.97" y1="340.8" x2="1322.97" y2="348.3" stroke="#000" stroke-width="3" stroke-linecap="butt"/>
<text x="1322.97" y="368.4" font-size="19.9" text-anchor="middle" stroke="#000" stroke-width="0.32">10</text>
<line x1="1365.15" y1="340.8" x2="1365.15" y2="348.3" stroke="#000" stroke-width="3" stroke-linecap="butt"/>
<text x="1365.15" y="368.4" font-size="19.9" text-anchor="middle" stroke="#000" stroke-width="0.32">15</text>
<line x1="1407.33" y1="340.8" x2="1407.33" y2="348.3" stroke="#000" stroke-width="3" stroke-linecap="butt"/>
<text x="1407.33" y="368.4" font-size="19.9" text-anchor="middle" stroke="#000" stroke-width="0.32">20</text>
<line x1="1449.52" y1="340.8" x2="1449.52" y2="348.3" stroke="#000" stroke-width="3" stroke-linecap="butt"/>
<text x="1449.52" y="368.4" font-size="19.9" text-anchor="middle" stroke="#000" stroke-width="0.32">25</text>
<line x1="1491.7" y1="340.8" x2="1491.7" y2="348.3" stroke="#000" stroke-width="3" stroke-linecap="butt"/>
<text x="1491.7" y="368.4" font-size="19.9" text-anchor="middle" stroke="#000" stroke-width="0.32">30</text>
<text x="1365.35" y="401.5" font-size="22.3" text-anchor="middle" stroke="#000" stroke-width="0.32">Time (min)</text>
<text x="1361" y="65.6" font-size="25" text-anchor="middle" fill="#2a1268" stroke="#2a1268" stroke-width="0.32">General allogrooming</text>
<text x="1361" y="95.7" font-size="25" text-anchor="middle" fill="#2a1268" stroke="#2a1268" stroke-width="0.32" textLength="229.8" lengthAdjust="spacingAndGlyphs">+ targeted allolicking</text>
<path d="M1545.77 348.48 L1549.93 312.16 L1558.25 284.44 L1569.33 265.04 L1574.88 256.72 L1580.42 251.18 L1588.74 238.7 L1598.44 234.55 L1609.53 230.39 L1620.62 224.84 L1626.16 219.3 L1630.32 210.98 L1640.02 209.6 L1651.11 206.83 L1662.2 205.44 L1667.74 201.28 L1671.9 197.12 L1681.6 195.74 L1695.46 194.35 L1703.78 191.58 L1717.64 190.19 L1728.72 186.04 L1737.04 183.26 L1750.9 181.88 L1764.76 180.49 L1775.85 177.03 L1786.94 175.64 L1797.75 174.95 L1797.75 216.25 L1786.94 217.22 L1778.62 218.61 L1764.76 221.38 L1750.9 222.07 L1737.04 223.46 L1723.18 225.95 L1709.32 227.62 L1703.78 229.7 L1695.46 231.08 L1687.14 232.47 L1676.06 233.85 L1667.74 235.24 L1662.2 238.01 L1651.11 239.4 L1640.02 241.48 L1631.7 242.17 L1626.16 248.41 L1620.62 252.56 L1609.53 256.72 L1598.44 259.49 L1590.12 263.65 L1584.58 267.12 L1574.88 270.58 L1569.33 274.74 L1558.25 291.37 L1549.93 317.71 L1545.77 348.48 Z" fill="#9cc8f5" stroke="none" stroke-width="0" stroke-linejoin="round" fill-opacity="0.9"/>
<path d="M1545.77 348.48 L1549.93 310.78 L1558.25 281.67 L1569.33 255.34 L1574.88 241.48 L1580.42 231.77 L1588.74 222.07 L1598.44 217.91 L1609.53 212.37 L1620.62 207.52 L1631.7 204.75 L1640.02 202.67 L1648.34 199.2 L1656.65 195.05 L1667.74 190.89 L1676.06 187.42 L1687.14 184.65 L1695.46 183.26 L1706.55 181.88 L1717.64 180.77 L1728.72 179.11 L1737.04 177.72 L1748.13 177.03 L1759.22 174.95 L1770.3 172.87 L1778.62 170.79 L1786.94 168.02 L1792.48 165.94 L1797.75 165.94 L1797.75 212.65 L1778.62 214.31 L1764.76 215.84 L1750.9 217.22 L1737.04 218.61 L1723.18 220.13 L1709.32 222.21 L1695.46 224.43 L1681.6 227.2 L1667.74 229.97 L1656.65 232.74 L1648.34 234.13 L1640.02 235.65 L1631.7 238.15 L1620.62 241.75 L1609.53 245.63 L1598.44 250.9 L1588.74 256.03 L1580.42 260.19 L1574.88 266.42 L1569.33 271.97 L1558.25 289.99 L1549.93 316.32 L1545.77 348.48 Z" fill="#dedede" stroke="none" stroke-width="0" stroke-linejoin="round" fill-opacity="0.78"/>
<path d="M1545.77 348.48 L1547.16 331.57 L1549.93 314.93 L1554.09 298.3 L1558.25 287.21 L1563.79 276.13 L1569.33 267.81 L1574.88 262.27 L1580.42 259.49 L1584.58 258.11 L1588.74 252.56 L1592.9 246.33 L1598.44 243.56 L1603.98 241.48 L1609.53 240.09 L1615.07 238.01 L1620.62 235.24 L1626.16 231.08 L1630.32 225.95 L1637.25 225.54 L1642.79 224.84 L1651.11 222.77 L1658.04 222.07 L1663.58 221.38 L1667.74 218.61 L1671.9 215.84 L1678.83 215.14 L1687.14 214.03 L1695.46 213.06 L1703.78 211.68 L1709.32 209.6 L1717.64 208.91 L1723.18 206.83 L1731.5 205.44 L1739.81 204.05 L1748.13 202.39 L1756.44 201.98 L1763.37 201.56 L1770.3 199.9 L1777.23 197.82 L1784.16 197.4 L1792.48 196.43 L1798.02 195.74" fill="none" stroke="#2b8be0" stroke-width="2.6" stroke-linejoin="round" stroke-linecap="round"/>
<path d="M1545.77 348.48 L1547.16 330.18 L1549.93 313.55 L1554.09 296.92 L1558.25 285.83 L1563.79 274.74 L1569.33 263.65 L1574.88 253.95 L1580.42 245.63 L1584.58 243.56 L1588.74 238.7 L1592.9 235.24 L1598.44 233.16 L1603.98 230.39 L1609.53 227.62 L1615.07 225.54 L1620.62 223.46 L1626.16 222.07 L1633.09 220.69 L1640.02 219.02 L1648.34 215.84 L1656.65 213.06 L1662.2 212.37 L1667.74 210.29 L1673.28 207.93 L1681.6 206.55 L1689.92 204.05 L1698.23 203.36 L1706.55 202.39 L1714.86 201.98 L1723.18 200.17 L1731.5 199.9 L1737.04 197.82 L1743.97 197.82 L1752.29 197.82 L1760.6 195.46 L1767.53 194.35 L1775.85 192.97 L1781.39 190.89 L1786.94 190.19 L1792.48 188.53 L1798.02 188.53" fill="none" stroke="#707070" stroke-width="2.6" stroke-linejoin="round" stroke-linecap="round"/>
<line x1="1546.1" y1="93" x2="1546.1" y2="349.8" stroke="#000" stroke-width="3" stroke-linecap="butt"/>
<line x1="1544.6" y1="348.3" x2="1800.7" y2="348.3" stroke="#000" stroke-width="3" stroke-linecap="butt"/>
<line x1="1534.9" y1="348.3" x2="1546.1" y2="348.3" stroke="#000" stroke-width="3" stroke-linecap="butt"/>
<text x="1531.2" y="354.9" font-size="19.9" text-anchor="end" stroke="#000" stroke-width="0.32">0</text>
<line x1="1534.9" y1="263.7" x2="1546.1" y2="263.7" stroke="#000" stroke-width="3" stroke-linecap="butt"/>
<text x="1531.2" y="270.3" font-size="19.9" text-anchor="end" stroke="#000" stroke-width="0.32">50</text>
<line x1="1534.9" y1="179.1" x2="1546.1" y2="179.1" stroke="#000" stroke-width="3" stroke-linecap="butt"/>
<text x="1531.2" y="185.7" font-size="19.9" text-anchor="end" stroke="#000" stroke-width="0.32">100</text>
<line x1="1534.9" y1="94.5" x2="1546.1" y2="94.5" stroke="#000" stroke-width="3" stroke-linecap="butt"/>
<text x="1531.2" y="101.1" font-size="19.9" text-anchor="end" stroke="#000" stroke-width="0.32">150</text>
<text x="1546.1" y="368.4" font-size="19.9" text-anchor="middle" stroke="#000" stroke-width="0.32">0</text>
<line x1="1588.28" y1="340.8" x2="1588.28" y2="348.3" stroke="#000" stroke-width="3" stroke-linecap="butt"/>
<text x="1588.28" y="368.4" font-size="19.9" text-anchor="middle" stroke="#000" stroke-width="0.32">5</text>
<line x1="1630.47" y1="340.8" x2="1630.47" y2="348.3" stroke="#000" stroke-width="3" stroke-linecap="butt"/>
<text x="1630.47" y="368.4" font-size="19.9" text-anchor="middle" stroke="#000" stroke-width="0.32">10</text>
<line x1="1672.65" y1="340.8" x2="1672.65" y2="348.3" stroke="#000" stroke-width="3" stroke-linecap="butt"/>
<text x="1672.65" y="368.4" font-size="19.9" text-anchor="middle" stroke="#000" stroke-width="0.32">15</text>
<line x1="1714.83" y1="340.8" x2="1714.83" y2="348.3" stroke="#000" stroke-width="3" stroke-linecap="butt"/>
<text x="1714.83" y="368.4" font-size="19.9" text-anchor="middle" stroke="#000" stroke-width="0.32">20</text>
<line x1="1757.02" y1="340.8" x2="1757.02" y2="348.3" stroke="#000" stroke-width="3" stroke-linecap="butt"/>
<text x="1757.02" y="368.4" font-size="19.9" text-anchor="middle" stroke="#000" stroke-width="0.32">25</text>
<line x1="1799.2" y1="340.8" x2="1799.2" y2="348.3" stroke="#000" stroke-width="3" stroke-linecap="butt"/>
<text x="1799.2" y="368.4" font-size="19.9" text-anchor="middle" stroke="#000" stroke-width="0.32">30</text>
<text x="1672.85" y="401.5" font-size="22.3" text-anchor="middle" stroke="#000" stroke-width="0.32">Time (min)</text>
<text x="1669.5" y="79.9" font-size="25" text-anchor="middle" fill="#3b86e0" stroke="#3b86e0" stroke-width="0.32">Investigation</text>
<!-- 30_panels_cd.py -->
<line x1="699.1" y1="493.16" x2="699.1" y2="578.08" stroke="#000" stroke-width="2.95" stroke-linecap="butt"/>
<line x1="699.1" y1="657.77" x2="699.1" y2="700" stroke="#000" stroke-width="2.95" stroke-linecap="butt"/>
<line x1="684.6" y1="493.16" x2="713.6" y2="493.16" stroke="#000" stroke-width="2.95" stroke-linecap="butt"/>
<line x1="684.6" y1="700" x2="713.6" y2="700" stroke="#000" stroke-width="2.95" stroke-linecap="butt"/>
<rect x="672.63" y="579.41" width="52.65" height="77.04" fill="#c8c8c8" stroke="#000" stroke-width="2.65"/>
<line x1="672.63" y1="629.62" x2="725.27" y2="629.62" stroke="#000" stroke-width="2.65" stroke-linecap="butt"/>
<line x1="782.3" y1="532.6" x2="782.3" y2="592.37" stroke="#000" stroke-width="2.95" stroke-linecap="butt"/>
<line x1="782.3" y1="681.22" x2="782.3" y2="700" stroke="#000" stroke-width="2.95" stroke-linecap="butt"/>
<line x1="767.8" y1="532.6" x2="796.8" y2="532.6" stroke="#000" stroke-width="2.95" stroke-linecap="butt"/>
<line x1="767.8" y1="700" x2="796.8" y2="700" stroke="#000" stroke-width="2.95" stroke-linecap="butt"/>
<rect x="755.83" y="593.69" width="52.65" height="86.2" fill="#d6f2f6" stroke="#000" stroke-width="2.65"/>
<line x1="755.83" y1="630.68" x2="808.47" y2="630.68" stroke="#000" stroke-width="2.65" stroke-linecap="butt"/>
<line x1="699.1" y1="493.16" x2="782.3" y2="532.6" stroke="#b4b4b4" stroke-width="1.3" stroke-linecap="butt"/>
<line x1="699.1" y1="548.59" x2="782.3" y2="646.67" stroke="#b4b4b4" stroke-width="1.3" stroke-linecap="butt"/>
<line x1="699.1" y1="585.91" x2="782.3" y2="613.62" stroke="#b4b4b4" stroke-width="1.3" stroke-linecap="butt"/>
<line x1="699.1" y1="610.43" x2="782.3" y2="581.64" stroke="#b4b4b4" stroke-width="1.3" stroke-linecap="butt"/>
<line x1="699.1" y1="629.62" x2="782.3" y2="593.37" stroke="#b4b4b4" stroke-width="1.3" stroke-linecap="butt"/>
<line x1="699.1" y1="646.67" x2="782.3" y2="610.43" stroke="#b4b4b4" stroke-width="1.3" stroke-linecap="butt"/>
<line x1="699.1" y1="636.01" x2="782.3" y2="650.94" stroke="#b4b4b4" stroke-width="1.3" stroke-linecap="butt"/>
<line x1="699.1" y1="644.54" x2="782.3" y2="695.71" stroke="#b4b4b4" stroke-width="1.3" stroke-linecap="butt"/>
<line x1="699.1" y1="690.38" x2="782.3" y2="675.46" stroke="#b4b4b4" stroke-width="1.3" stroke-linecap="butt"/>
<line x1="699.1" y1="699.98" x2="782.3" y2="699.98" stroke="#b4b4b4" stroke-width="1.3" stroke-linecap="butt"/>
<line x1="644.1" y1="452.92" x2="644.1" y2="713.77" stroke="#000" stroke-width="2.95" stroke-linecap="butt"/>
<line x1="642.62" y1="712.3" x2="837.7" y2="712.3" stroke="#000" stroke-width="2.95" stroke-linecap="butt"/>
<line x1="632.12" y1="700" x2="644.1" y2="700" stroke="#000" stroke-width="2.95" stroke-linecap="butt"/>
<text x="627.9" y="707.23" font-size="20.2" text-anchor="end" stroke="#000" stroke-width="0.32">0</text>
<line x1="632.12" y1="618.13" x2="644.1" y2="618.13" stroke="#000" stroke-width="2.95" stroke-linecap="butt"/>
<text x="627.9" y="625.36" font-size="20.2" text-anchor="end" stroke="#000" stroke-width="0.32">200</text>
<line x1="632.12" y1="536.27" x2="644.1" y2="536.27" stroke="#000" stroke-width="2.95" stroke-linecap="butt"/>
<text x="627.9" y="543.5" font-size="20.2" text-anchor="end" stroke="#000" stroke-width="0.32">400</text>
<line x1="632.12" y1="454.4" x2="644.1" y2="454.4" stroke="#000" stroke-width="2.95" stroke-linecap="butt"/>
<text x="627.9" y="461.63" font-size="20.2" text-anchor="end" stroke="#000" stroke-width="0.32">600</text>
<line x1="699.1" y1="712.3" x2="699.1" y2="722.8" stroke="#000" stroke-width="2.95" stroke-linecap="butt"/>
<text x="699.1" y="745.9" font-size="21.1" text-anchor="middle" stroke="#000" stroke-width="0.32">Saline</text>
<line x1="782.3" y1="712.3" x2="782.3" y2="722.8" stroke="#000" stroke-width="2.95" stroke-linecap="butt"/>
<text x="782.3" y="745.9" font-size="21.1" text-anchor="middle" stroke="#000" stroke-width="0.32">CNO</text>
<path d="M699.1 478.8 L699.1 462.4 L782.3 462.4 L782.3 518.3" fill="none" stroke="#000" stroke-width="2.95" stroke-linejoin="round" stroke-linejoin="miter"/>
<text x="740.7" y="449" font-size="20.2" text-anchor="middle" stroke="#000" stroke-width="0.32">ns</text>
<text x="580.6" y="580.5" font-size="20.5" text-anchor="middle" stroke="#000" stroke-width="0.32" transform="rotate(-90 580.6 580.5)">General allogrooming (s)</text>
<line x1="1003.1" y1="474.39" x2="1003.1" y2="555.06" stroke="#000" stroke-width="2.95" stroke-linecap="butt"/>
<line x1="1003.1" y1="669.92" x2="1003.1" y2="682.92" stroke="#000" stroke-width="2.95" stroke-linecap="butt"/>
<line x1="988.6" y1="474.39" x2="1017.6" y2="474.39" stroke="#000" stroke-width="2.95" stroke-linecap="butt"/>
<line x1="988.6" y1="682.92" x2="1017.6" y2="682.92" stroke="#000" stroke-width="2.95" stroke-linecap="butt"/>
<rect x="976.63" y="556.38" width="52.65" height="112.22" fill="#c8c8c8" stroke="#000" stroke-width="2.65"/>
<line x1="976.63" y1="607.23" x2="1029.27" y2="607.23" stroke="#000" stroke-width="2.65" stroke-linecap="butt"/>
<line x1="1086.3" y1="502.11" x2="1086.3" y2="575.95" stroke="#000" stroke-width="2.95" stroke-linecap="butt"/>
<line x1="1086.3" y1="659.9" x2="1086.3" y2="684.63" stroke="#000" stroke-width="2.95" stroke-linecap="butt"/>
<line x1="1071.8" y1="502.11" x2="1100.8" y2="502.11" stroke="#000" stroke-width="2.95" stroke-linecap="butt"/>
<line x1="1071.8" y1="684.63" x2="1100.8" y2="684.63" stroke="#000" stroke-width="2.95" stroke-linecap="butt"/>
<rect x="1059.83" y="577.28" width="52.65" height="81.3" fill="#fba9a9" stroke="#000" stroke-width="2.65"/>
<line x1="1059.83" y1="628.55" x2="1112.47" y2="628.55" stroke="#000" stroke-width="2.65" stroke-linecap="butt"/>
<line x1="1003.1" y1="474.39" x2="1086.3" y2="676.52" stroke="#b4b4b4" stroke-width="1.3" stroke-linecap="butt"/>
<line x1="1003.1" y1="521.94" x2="1086.3" y2="628.55" stroke="#b4b4b4" stroke-width="1.3" stroke-linecap="butt"/>
<line x1="1003.1" y1="564.58" x2="1086.3" y2="501.68" stroke="#b4b4b4" stroke-width="1.3" stroke-linecap="butt"/>
<line x1="1003.1" y1="588.04" x2="1086.3" y2="518.74" stroke="#b4b4b4" stroke-width="1.3" stroke-linecap="butt"/>
<line x1="1003.1" y1="600.83" x2="1086.3" y2="594.43" stroke="#b4b4b4" stroke-width="1.3" stroke-linecap="butt"/>
<line x1="1003.1" y1="612.56" x2="1086.3" y2="617.89" stroke="#b4b4b4" stroke-width="1.3" stroke-linecap="butt"/>
<line x1="1003.1" y1="634.95" x2="1086.3" y2="664.8" stroke="#b4b4b4" stroke-width="1.3" stroke-linecap="butt"/>
<line x1="1003.1" y1="669.06" x2="1086.3" y2="633.88" stroke="#b4b4b4" stroke-width="1.3" stroke-linecap="butt"/>
<line x1="1003.1" y1="669.06" x2="1086.3" y2="655.2" stroke="#b4b4b4" stroke-width="1.3" stroke-linecap="butt"/>
<line x1="1003.1" y1="682.92" x2="1086.3" y2="641.34" stroke="#b4b4b4" stroke-width="1.3" stroke-linecap="butt"/>
<line x1="1003.1" y1="636.01" x2="1086.3" y2="684.63" stroke="#b4b4b4" stroke-width="1.3" stroke-linecap="butt"/>
<line x1="948.1" y1="452.92" x2="948.1" y2="713.77" stroke="#000" stroke-width="2.95" stroke-linecap="butt"/>
<line x1="946.62" y1="712.3" x2="1141.1" y2="712.3" stroke="#000" stroke-width="2.95" stroke-linecap="butt"/>
<line x1="936.12" y1="700" x2="948.1" y2="700" stroke="#000" stroke-width="2.95" stroke-linecap="butt"/>
<text x="932.7" y="707.02" font-size="19.6" text-anchor="end" stroke="#000" stroke-width="0.32">0</text>
<line x1="936.12" y1="638.6" x2="948.1" y2="638.6" stroke="#000" stroke-width="2.95" stroke-linecap="butt"/>
<text x="932.7" y="645.62" font-size="19.6" text-anchor="end" stroke="#000" stroke-width="0.32">50</text>
<line x1="936.12" y1="577.2" x2="948.1" y2="577.2" stroke="#000" stroke-width="2.95" stroke-linecap="butt"/>
<text x="932.7" y="584.22" font-size="19.6" text-anchor="end" stroke="#000" stroke-width="0.32">100</text>
<line x1="936.12" y1="515.8" x2="948.1" y2="515.8" stroke="#000" stroke-width="2.95" stroke-linecap="butt"/>
<text x="932.7" y="522.82" font-size="19.6" text-anchor="end" stroke="#000" stroke-width="0.32">150</text>
<line x1="936.12" y1="454.4" x2="948.1" y2="454.4" stroke="#000" stroke-width="2.95" stroke-linecap="butt"/>
<text x="932.7" y="461.42" font-size="19.6" text-anchor="end" stroke="#000" stroke-width="0.32">200</text>
<line x1="1003.1" y1="712.3" x2="1003.1" y2="722.8" stroke="#000" stroke-width="2.95" stroke-linecap="butt"/>
<text x="1003.1" y="744.4" font-size="19.8" text-anchor="middle" stroke="#000" stroke-width="0.32">Saline</text>
<line x1="1086.3" y1="712.3" x2="1086.3" y2="722.8" stroke="#000" stroke-width="2.95" stroke-linecap="butt"/>
<text x="1086.3" y="744.4" font-size="19.8" text-anchor="middle" stroke="#000" stroke-width="0.32">CNO</text>
<path d="M1003.1 468.2 L1003.1 457.5 L1086.3 457.5 L1086.3 494.8" fill="none" stroke="#000" stroke-width="2.95" stroke-linejoin="round" stroke-linejoin="miter"/>
<text x="1044.7" y="443" font-size="19.6" text-anchor="middle" stroke="#000" stroke-width="0.32">ns</text>
<text x="886" y="583" font-size="20.6" text-anchor="middle" stroke="#000" stroke-width="0.32" transform="rotate(-90 886 583)">Targeted allolicking (s)</text>
<line x1="1331.2" y1="522.58" x2="1331.2" y2="576.38" stroke="#000" stroke-width="2.95" stroke-linecap="butt"/>
<line x1="1331.2" y1="653.08" x2="1331.2" y2="695.71" stroke="#000" stroke-width="2.95" stroke-linecap="butt"/>
<line x1="1316.7" y1="522.58" x2="1345.7" y2="522.58" stroke="#000" stroke-width="2.95" stroke-linecap="butt"/>
<line x1="1316.7" y1="695.71" x2="1345.7" y2="695.71" stroke="#000" stroke-width="2.95" stroke-linecap="butt"/>
<rect x="1304.73" y="577.7" width="52.65" height="74.05" fill="#c8c8c8" stroke="#000" stroke-width="2.65"/>
<line x1="1304.73" y1="616.4" x2="1357.38" y2="616.4" stroke="#000" stroke-width="2.65" stroke-linecap="butt"/>
<line x1="1414.4" y1="553.92" x2="1414.4" y2="585.97" stroke="#000" stroke-width="2.95" stroke-linecap="butt"/>
<line x1="1414.4" y1="679.09" x2="1414.4" y2="690.81" stroke="#000" stroke-width="2.95" stroke-linecap="butt"/>
<line x1="1399.9" y1="553.92" x2="1428.9" y2="553.92" stroke="#000" stroke-width="2.95" stroke-linecap="butt"/>
<line x1="1399.9" y1="690.81" x2="1428.9" y2="690.81" stroke="#000" stroke-width="2.95" stroke-linecap="butt"/>
<rect x="1387.93" y="587.3" width="52.65" height="90.47" fill="#dcc1fb" stroke="#000" stroke-width="2.65"/>
<line x1="1387.93" y1="624.29" x2="1440.58" y2="624.29" stroke="#000" stroke-width="2.65" stroke-linecap="butt"/>
<line x1="1331.2" y1="522.58" x2="1414.4" y2="553.92" stroke="#b4b4b4" stroke-width="1.3" stroke-linecap="butt"/>
<line x1="1331.2" y1="542.2" x2="1414.4" y2="690.81" stroke="#b4b4b4" stroke-width="1.3" stroke-linecap="butt"/>
<line x1="1331.2" y1="585.91" x2="1414.4" y2="586.97" stroke="#b4b4b4" stroke-width="1.3" stroke-linecap="butt"/>
<line x1="1331.2" y1="586.97" x2="1414.4" y2="641.34" stroke="#b4b4b4" stroke-width="1.3" stroke-linecap="butt"/>
<line x1="1331.2" y1="606.16" x2="1414.4" y2="586.97" stroke="#b4b4b4" stroke-width="1.3" stroke-linecap="butt"/>
<line x1="1331.2" y1="625.35" x2="1414.4" y2="590.17" stroke="#b4b4b4" stroke-width="1.3" stroke-linecap="butt"/>
<line x1="1331.2" y1="641.34" x2="1414.4" y2="606.16" stroke="#b4b4b4" stroke-width="1.3" stroke-linecap="butt"/>
<line x1="1331.2" y1="644.54" x2="1414.4" y2="652" stroke="#b4b4b4" stroke-width="1.3" stroke-linecap="butt"/>
<line x1="1331.2" y1="676.52" x2="1414.4" y2="677.59" stroke="#b4b4b4" stroke-width="1.3" stroke-linecap="butt"/>
<line x1="1331.2" y1="695.71" x2="1414.4" y2="682.92" stroke="#b4b4b4" stroke-width="1.3" stroke-linecap="butt"/>
<line x1="1276.9" y1="452.92" x2="1276.9" y2="713.77" stroke="#000" stroke-width="2.95" stroke-linecap="butt"/>
<line x1="1275.43" y1="712.3" x2="1469.2" y2="712.3" stroke="#000" stroke-width="2.95" stroke-linecap="butt"/>
<line x1="1264.93" y1="700" x2="1276.9" y2="700" stroke="#000" stroke-width="2.95" stroke-linecap="butt"/>
<text x="1260.7" y="707.23" font-size="20.2" text-anchor="end" stroke="#000" stroke-width="0.32">0</text>
<line x1="1264.93" y1="638.6" x2="1276.9" y2="638.6" stroke="#000" stroke-width="2.95" stroke-linecap="butt"/>
<text x="1260.7" y="645.83" font-size="20.2" text-anchor="end" stroke="#000" stroke-width="0.32">200</text>
<line x1="1264.93" y1="577.2" x2="1276.9" y2="577.2" stroke="#000" stroke-width="2.95" stroke-linecap="butt"/>
<text x="1260.7" y="584.43" font-size="20.2" text-anchor="end" stroke="#000" stroke-width="0.32">400</text>
<line x1="1264.93" y1="515.8" x2="1276.9" y2="515.8" stroke="#000" stroke-width="2.95" stroke-linecap="butt"/>
<text x="1260.7" y="523.03" font-size="20.2" text-anchor="end" stroke="#000" stroke-width="0.32">600</text>
<line x1="1264.93" y1="454.4" x2="1276.9" y2="454.4" stroke="#000" stroke-width="2.95" stroke-linecap="butt"/>
<text x="1260.7" y="461.63" font-size="20.2" text-anchor="end" stroke="#000" stroke-width="0.32">800</text>
<line x1="1331.2" y1="712.3" x2="1331.2" y2="722.8" stroke="#000" stroke-width="2.95" stroke-linecap="butt"/>
<text x="1331.2" y="745.9" font-size="21.1" text-anchor="middle" stroke="#000" stroke-width="0.32">Saline</text>
<line x1="1414.4" y1="712.3" x2="1414.4" y2="722.8" stroke="#000" stroke-width="2.95" stroke-linecap="butt"/>
<text x="1414.4" y="745.9" font-size="21.1" text-anchor="middle" stroke="#000" stroke-width="0.32">CNO</text>
<path d="M1331.2 508.7 L1331.2 492.7 L1414.4 492.7 L1414.4 539.6" fill="none" stroke="#000" stroke-width="2.95" stroke-linejoin="round" stroke-linejoin="miter"/>
<text x="1373.2" y="478.2" font-size="20.2" text-anchor="middle" stroke="#000" stroke-width="0.32">ns</text>
<text x="1188.5" y="580.5" font-size="20.5" text-anchor="middle" stroke="#000" stroke-width="0.32" transform="rotate(-90 1188.5 580.5)">General allogrooming</text>
<text x="1213" y="580.5" font-size="20.5" text-anchor="middle" stroke="#000" stroke-width="0.32" transform="rotate(-90 1213 580.5)">+ targeted allolicking (s)</text>
<line x1="1646.5" y1="497.85" x2="1646.5" y2="541.2" stroke="#000" stroke-width="2.95" stroke-linecap="butt"/>
<line x1="1646.5" y1="626.43" x2="1646.5" y2="663.73" stroke="#000" stroke-width="2.95" stroke-linecap="butt"/>
<line x1="1632" y1="497.85" x2="1661" y2="497.85" stroke="#000" stroke-width="2.95" stroke-linecap="butt"/>
<line x1="1632" y1="663.73" x2="1661" y2="663.73" stroke="#000" stroke-width="2.95" stroke-linecap="butt"/>
<rect x="1620.03" y="542.52" width="52.65" height="82.58" fill="#c8c8c8" stroke="#000" stroke-width="2.65"/>
<line x1="1620.03" y1="590.17" x2="1672.67" y2="590.17" stroke="#000" stroke-width="2.65" stroke-linecap="butt"/>
<line x1="1729.7" y1="482.92" x2="1729.7" y2="566.14" stroke="#000" stroke-width="2.95" stroke-linecap="butt"/>
<line x1="1729.7" y1="626.43" x2="1729.7" y2="636.65" stroke="#000" stroke-width="2.95" stroke-linecap="butt"/>
<line x1="1715.2" y1="482.92" x2="1744.2" y2="482.92" stroke="#000" stroke-width="2.95" stroke-linecap="butt"/>
<line x1="1715.2" y1="636.65" x2="1744.2" y2="636.65" stroke="#000" stroke-width="2.95" stroke-linecap="butt"/>
<rect x="1703.23" y="567.47" width="52.65" height="57.63" fill="#62a8f4" stroke="#000" stroke-width="2.65"/>
<line x1="1703.23" y1="608.29" x2="1755.88" y2="608.29" stroke="#000" stroke-width="2.65" stroke-linecap="butt"/>
<line x1="1646.5" y1="497.85" x2="1729.7" y2="567.78" stroke="#b4b4b4" stroke-width="1.3" stroke-linecap="butt"/>
<line x1="1646.5" y1="521.94" x2="1729.7" y2="617.89" stroke="#b4b4b4" stroke-width="1.3" stroke-linecap="butt"/>
<line x1="1646.5" y1="546.46" x2="1729.7" y2="609.36" stroke="#b4b4b4" stroke-width="1.3" stroke-linecap="butt"/>
<line x1="1646.5" y1="573.11" x2="1729.7" y2="625.35" stroke="#b4b4b4" stroke-width="1.3" stroke-linecap="butt"/>
<line x1="1646.5" y1="590.17" x2="1729.7" y2="563.52" stroke="#b4b4b4" stroke-width="1.3" stroke-linecap="butt"/>
<line x1="1646.5" y1="590.17" x2="1729.7" y2="636.65" stroke="#b4b4b4" stroke-width="1.3" stroke-linecap="butt"/>
<line x1="1646.5" y1="610.43" x2="1729.7" y2="624.29" stroke="#b4b4b4" stroke-width="1.3" stroke-linecap="butt"/>
<line x1="1646.5" y1="612.56" x2="1729.7" y2="567.78" stroke="#b4b4b4" stroke-width="1.3" stroke-linecap="butt"/>
<line x1="1646.5" y1="629.62" x2="1729.7" y2="482.92" stroke="#b4b4b4" stroke-width="1.3" stroke-linecap="butt"/>
<line x1="1646.5" y1="629.62" x2="1729.7" y2="559.25" stroke="#b4b4b4" stroke-width="1.3" stroke-linecap="butt"/>
<line x1="1646.5" y1="663.73" x2="1729.7" y2="614.69" stroke="#b4b4b4" stroke-width="1.3" stroke-linecap="butt"/>
<line x1="1591.5" y1="452.92" x2="1591.5" y2="713.77" stroke="#000" stroke-width="2.95" stroke-linecap="butt"/>
<line x1="1590.03" y1="712.3" x2="1784.5" y2="712.3" stroke="#000" stroke-width="2.95" stroke-linecap="butt"/>
<line x1="1579.53" y1="700" x2="1591.5" y2="700" stroke="#000" stroke-width="2.95" stroke-linecap="butt"/>
<text x="1575.3" y="707.23" font-size="20.2" text-anchor="end" stroke="#000" stroke-width="0.32">0</text>
<line x1="1579.53" y1="638.6" x2="1591.5" y2="638.6" stroke="#000" stroke-width="2.95" stroke-linecap="butt"/>
<text x="1575.3" y="645.83" font-size="20.2" text-anchor="end" stroke="#000" stroke-width="0.32">50</text>
<line x1="1579.53" y1="577.2" x2="1591.5" y2="577.2" stroke="#000" stroke-width="2.95" stroke-linecap="butt"/>
<text x="1575.3" y="584.43" font-size="20.2" text-anchor="end" stroke="#000" stroke-width="0.32">100</text>
<line x1="1579.53" y1="515.8" x2="1591.5" y2="515.8" stroke="#000" stroke-width="2.95" stroke-linecap="butt"/>
<text x="1575.3" y="523.03" font-size="20.2" text-anchor="end" stroke="#000" stroke-width="0.32">150</text>
<line x1="1579.53" y1="454.4" x2="1591.5" y2="454.4" stroke="#000" stroke-width="2.95" stroke-linecap="butt"/>
<text x="1575.3" y="461.63" font-size="20.2" text-anchor="end" stroke="#000" stroke-width="0.32">200</text>
<line x1="1646.5" y1="712.3" x2="1646.5" y2="722.8" stroke="#000" stroke-width="2.95" stroke-linecap="butt"/>
<text x="1646.5" y="745.9" font-size="21.1" text-anchor="middle" stroke="#000" stroke-width="0.32">Saline</text>
<line x1="1729.7" y1="712.3" x2="1729.7" y2="722.8" stroke="#000" stroke-width="2.95" stroke-linecap="butt"/>
<text x="1729.7" y="745.9" font-size="21.1" text-anchor="middle" stroke="#000" stroke-width="0.32">CNO</text>
<path d="M1646.5 484.2 L1646.5 453.2 L1729.7 453.2 L1729.7 468.6" fill="none" stroke="#000" stroke-width="2.95" stroke-linejoin="round" stroke-linejoin="miter"/>
<text x="1688.5" y="437.7" font-size="20.2" text-anchor="middle" stroke="#000" stroke-width="0.32">ns</text>
<text x="1528.2" y="580.5" font-size="20.5" text-anchor="middle" stroke="#000" stroke-width="0.32" transform="rotate(-90 1528.2 580.5)">Investigation (s)</text>
<line x1="699.1" y1="895.8" x2="699.1" y2="941.07" stroke="#000" stroke-width="2.95" stroke-linecap="butt"/>
<line x1="699.1" y1="1028.43" x2="699.1" y2="1067.9" stroke="#000" stroke-width="2.95" stroke-linecap="butt"/>
<line x1="684.6" y1="895.8" x2="713.6" y2="895.8" stroke="#000" stroke-width="2.95" stroke-linecap="butt"/>
<line x1="684.6" y1="1067.9" x2="713.6" y2="1067.9" stroke="#000" stroke-width="2.95" stroke-linecap="butt"/>
<rect x="672.63" y="942.39" width="52.65" height="84.71" fill="#c8c8c8" stroke="#000" stroke-width="2.65"/>
<line x1="672.63" y1="983.65" x2="725.27" y2="983.65" stroke="#000" stroke-width="2.65" stroke-linecap="butt"/>
<line x1="782.3" y1="846.76" x2="782.3" y2="927.21" stroke="#000" stroke-width="2.95" stroke-linecap="butt"/>
<line x1="782.3" y1="1056.15" x2="782.3" y2="1067.9" stroke="#000" stroke-width="2.95" stroke-linecap="butt"/>
<line x1="767.8" y1="846.76" x2="796.8" y2="846.76" stroke="#000" stroke-width="2.95" stroke-linecap="butt"/>
<line x1="767.8" y1="1067.9" x2="796.8" y2="1067.9" stroke="#000" stroke-width="2.95" stroke-linecap="butt"/>
<rect x="755.83" y="928.53" width="52.65" height="126.29" fill="#d6f2f6" stroke="#000" stroke-width="2.65"/>
<line x1="755.83" y1="1004.54" x2="808.47" y2="1004.54" stroke="#000" stroke-width="2.65" stroke-linecap="butt"/>
<line x1="699.1" y1="895.8" x2="782.3" y2="1004.54" stroke="#b4b4b4" stroke-width="1.3" stroke-linecap="butt"/>
<line x1="699.1" y1="928.85" x2="782.3" y2="933.11" stroke="#b4b4b4" stroke-width="1.3" stroke-linecap="butt"/>
<line x1="699.1" y1="946.97" x2="782.3" y2="989.62" stroke="#b4b4b4" stroke-width="1.3" stroke-linecap="butt"/>
<line x1="699.1" y1="953.37" x2="782.3" y2="846.76" stroke="#b4b4b4" stroke-width="1.3" stroke-linecap="butt"/>
<line x1="699.1" y1="983.65" x2="782.3" y2="908.59" stroke="#b4b4b4" stroke-width="1.3" stroke-linecap="butt"/>
<line x1="699.1" y1="983.65" x2="782.3" y2="1054.65" stroke="#b4b4b4" stroke-width="1.3" stroke-linecap="butt"/>
<line x1="699.1" y1="1018.4" x2="782.3" y2="1004.54" stroke="#b4b4b4" stroke-width="1.3" stroke-linecap="butt"/>
<line x1="699.1" y1="1018.4" x2="782.3" y2="1054.65" stroke="#b4b4b4" stroke-width="1.3" stroke-linecap="butt"/>
<line x1="699.1" y1="1055.71" x2="782.3" y2="1052.52" stroke="#b4b4b4" stroke-width="1.3" stroke-linecap="butt"/>
<line x1="699.1" y1="1067.87" x2="782.3" y2="1067.87" stroke="#b4b4b4" stroke-width="1.3" stroke-linecap="butt"/>
<line x1="644.1" y1="821.02" x2="644.1" y2="1081.67" stroke="#000" stroke-width="2.95" stroke-linecap="butt"/>
<line x1="642.62" y1="1080.2" x2="837.7" y2="1080.2" stroke="#000" stroke-width="2.95" stroke-linecap="butt"/>
<line x1="632.12" y1="1067.9" x2="644.1" y2="1067.9" stroke="#000" stroke-width="2.95" stroke-linecap="butt"/>
<text x="627.9" y="1075.13" font-size="20.2" text-anchor="end" stroke="#000" stroke-width="0.32">0</text>
<line x1="632.12" y1="986.1" x2="644.1" y2="986.1" stroke="#000" stroke-width="2.95" stroke-linecap="butt"/>
<text x="627.9" y="993.33" font-size="20.2" text-anchor="end" stroke="#000" stroke-width="0.32">20</text>
<line x1="632.12" y1="904.3" x2="644.1" y2="904.3" stroke="#000" stroke-width="2.95" stroke-linecap="butt"/>
<text x="627.9" y="911.53" font-size="20.2" text-anchor="end" stroke="#000" stroke-width="0.32">40</text>
<line x1="632.12" y1="822.5" x2="644.1" y2="822.5" stroke="#000" stroke-width="2.95" stroke-linecap="butt"/>
<text x="627.9" y="829.73" font-size="20.2" text-anchor="end" stroke="#000" stroke-width="0.32">60</text>
<line x1="699.1" y1="1080.2" x2="699.1" y2="1090.7" stroke="#000" stroke-width="2.95" stroke-linecap="butt"/>
<text x="699.1" y="1113.8" font-size="21.1" text-anchor="middle" stroke="#000" stroke-width="0.32">Saline</text>
<line x1="782.3" y1="1080.2" x2="782.3" y2="1090.7" stroke="#000" stroke-width="2.95" stroke-linecap="butt"/>
<text x="782.3" y="1113.8" font-size="21.1" text-anchor="middle" stroke="#000" stroke-width="0.32">CNO</text>
<path d="M699.1 887.9 L699.1 834.1 L782.3 834.1 L782.3 846.3" fill="none" stroke="#000" stroke-width="2.95" stroke-linejoin="round" stroke-linejoin="miter"/>
<text x="740.7" y="820.1" font-size="20.2" text-anchor="middle" stroke="#000" stroke-width="0.32">ns</text>
<text x="591.2" y="949.5" font-size="20.5" text-anchor="middle" stroke="#000" stroke-width="0.32" transform="rotate(-90 591.2 949.5)">Bouts of general allogrooming</text>
<line x1="1003.1" y1="903.9" x2="1003.1" y2="926.78" stroke="#000" stroke-width="2.95" stroke-linecap="butt"/>
<line x1="1003.1" y1="1043.36" x2="1003.1" y2="1059.55" stroke="#000" stroke-width="2.95" stroke-linecap="butt"/>
<line x1="988.6" y1="903.9" x2="1017.6" y2="903.9" stroke="#000" stroke-width="2.95" stroke-linecap="butt"/>
<line x1="988.6" y1="1059.55" x2="1017.6" y2="1059.55" stroke="#000" stroke-width="2.95" stroke-linecap="butt"/>
<rect x="976.63" y="928.11" width="52.65" height="113.92" fill="#c8c8c8" stroke="#000" stroke-width="2.65"/>
<line x1="976.63" y1="973.62" x2="1029.27" y2="973.62" stroke="#000" stroke-width="2.65" stroke-linecap="butt"/>
<line x1="1086.3" y1="838.66" x2="1086.3" y2="939.15" stroke="#000" stroke-width="2.95" stroke-linecap="butt"/>
<line x1="1086.3" y1="1033.12" x2="1086.3" y2="1051.45" stroke="#000" stroke-width="2.95" stroke-linecap="butt"/>
<line x1="1071.8" y1="838.66" x2="1100.8" y2="838.66" stroke="#000" stroke-width="2.95" stroke-linecap="butt"/>
<line x1="1071.8" y1="1051.45" x2="1100.8" y2="1051.45" stroke="#000" stroke-width="2.95" stroke-linecap="butt"/>
<rect x="1059.83" y="940.47" width="52.65" height="91.32" fill="#fba9a9" stroke="#000" stroke-width="2.65"/>
<line x1="1059.83" y1="1001.98" x2="1112.47" y2="1001.98" stroke="#000" stroke-width="2.65" stroke-linecap="butt"/>
<line x1="1003.1" y1="903.9" x2="1086.3" y2="985.35" stroke="#b4b4b4" stroke-width="1.3" stroke-linecap="butt"/>
<line x1="1003.1" y1="927.78" x2="1086.3" y2="838.66" stroke="#b4b4b4" stroke-width="1.3" stroke-linecap="butt"/>
<line x1="1003.1" y1="928.85" x2="1086.3" y2="844.63" stroke="#b4b4b4" stroke-width="1.3" stroke-linecap="butt"/>
<line x1="1003.1" y1="928.85" x2="1086.3" y2="1024.8" stroke="#b4b4b4" stroke-width="1.3" stroke-linecap="butt"/>
<line x1="1003.1" y1="936.31" x2="1086.3" y2="969.36" stroke="#b4b4b4" stroke-width="1.3" stroke-linecap="butt"/>
<line x1="1003.1" y1="1009.87" x2="1086.3" y2="1051.45" stroke="#b4b4b4" stroke-width="1.3" stroke-linecap="butt"/>
<line x1="1003.1" y1="1026.93" x2="1086.3" y2="1002.41" stroke="#b4b4b4" stroke-width="1.3" stroke-linecap="butt"/>
<line x1="1003.1" y1="1042.92" x2="1086.3" y2="1002.41" stroke="#b4b4b4" stroke-width="1.3" stroke-linecap="butt"/>
<line x1="1003.1" y1="1043.99" x2="1086.3" y2="1051.45" stroke="#b4b4b4" stroke-width="1.3" stroke-linecap="butt"/>
<line x1="1003.1" y1="1059.55" x2="1086.3" y2="1002.41" stroke="#b4b4b4" stroke-width="1.3" stroke-linecap="butt"/>
<line x1="948.1" y1="821.02" x2="948.1" y2="1081.67" stroke="#000" stroke-width="2.95" stroke-linecap="butt"/>
<line x1="946.62" y1="1080.2" x2="1141.1" y2="1080.2" stroke="#000" stroke-width="2.95" stroke-linecap="butt"/>
<line x1="936.12" y1="1067.9" x2="948.1" y2="1067.9" stroke="#000" stroke-width="2.95" stroke-linecap="butt"/>
<text x="932.7" y="1074.92" font-size="19.6" text-anchor="end" stroke="#000" stroke-width="0.32">0</text>
<line x1="936.12" y1="986.1" x2="948.1" y2="986.1" stroke="#000" stroke-width="2.95" stroke-linecap="butt"/>
<text x="932.7" y="993.12" font-size="19.6" text-anchor="end" stroke="#000" stroke-width="0.32">10</text>
<line x1="936.12" y1="904.3" x2="948.1" y2="904.3" stroke="#000" stroke-width="2.95" stroke-linecap="butt"/>
<text x="932.7" y="911.32" font-size="19.6" text-anchor="end" stroke="#000" stroke-width="0.32">20</text>
<line x1="936.12" y1="822.5" x2="948.1" y2="822.5" stroke="#000" stroke-width="2.95" stroke-linecap="butt"/>
<text x="932.7" y="829.52" font-size="19.6" text-anchor="end" stroke="#000" stroke-width="0.32">30</text>
<line x1="1003.1" y1="1080.2" x2="1003.1" y2="1090.7" stroke="#000" stroke-width="2.95" stroke-linecap="butt"/>
<text x="1003.1" y="1112.4" font-size="19.8" text-anchor="middle" stroke="#000" stroke-width="0.32">Saline</text>
<line x1="1086.3" y1="1080.2" x2="1086.3" y2="1090.7" stroke="#000" stroke-width="2.95" stroke-linecap="butt"/>
<text x="1086.3" y="1112.4" font-size="19.8" text-anchor="middle" stroke="#000" stroke-width="0.32">CNO</text>
<path d="M1003.1 895.3 L1003.1 821.3 L1086.3 821.3 L1086.3 830.3" fill="none" stroke="#000" stroke-width="2.95" stroke-linejoin="round" stroke-linejoin="miter"/>
<text x="1044.7" y="806.7" font-size="19.6" text-anchor="middle" stroke="#000" stroke-width="0.32">ns</text>
<text x="898.4" y="951" font-size="20.6" text-anchor="middle" stroke="#000" stroke-width="0.32" transform="rotate(-90 898.4 951)">Bouts of targeted allolicking</text>
<line x1="1331.2" y1="877.25" x2="1331.2" y2="921.45" stroke="#000" stroke-width="2.95" stroke-linecap="butt"/>
<line x1="1331.2" y1="1025.66" x2="1331.2" y2="1064.67" stroke="#000" stroke-width="2.95" stroke-linecap="butt"/>
<line x1="1316.7" y1="877.25" x2="1345.7" y2="877.25" stroke="#000" stroke-width="2.95" stroke-linecap="butt"/>
<line x1="1316.7" y1="1064.67" x2="1345.7" y2="1064.67" stroke="#000" stroke-width="2.95" stroke-linecap="butt"/>
<rect x="1304.73" y="922.78" width="52.65" height="101.56" fill="#c8c8c8" stroke="#000" stroke-width="2.65"/>
<line x1="1304.73" y1="959.77" x2="1357.38" y2="959.77" stroke="#000" stroke-width="2.65" stroke-linecap="butt"/>
<line x1="1414.4" y1="864.88" x2="1414.4" y2="912.28" stroke="#000" stroke-width="2.95" stroke-linecap="butt"/>
<line x1="1414.4" y1="1044.85" x2="1414.4" y2="1052.52" stroke="#000" stroke-width="2.95" stroke-linecap="butt"/>
<line x1="1399.9" y1="864.88" x2="1428.9" y2="864.88" stroke="#000" stroke-width="2.95" stroke-linecap="butt"/>
<line x1="1399.9" y1="1052.52" x2="1428.9" y2="1052.52" stroke="#000" stroke-width="2.95" stroke-linecap="butt"/>
<rect x="1387.93" y="913.61" width="52.65" height="129.91" fill="#dcc1fb" stroke="#000" stroke-width="2.65"/>
<line x1="1387.93" y1="992.39" x2="1440.58" y2="992.39" stroke="#000" stroke-width="2.65" stroke-linecap="butt"/>
<line x1="1331.2" y1="877.25" x2="1414.4" y2="992.39" stroke="#b4b4b4" stroke-width="1.3" stroke-linecap="butt"/>
<line x1="1331.2" y1="914.99" x2="1414.4" y2="928.85" stroke="#b4b4b4" stroke-width="1.3" stroke-linecap="butt"/>
<line x1="1331.2" y1="922.45" x2="1414.4" y2="923.52" stroke="#b4b4b4" stroke-width="1.3" stroke-linecap="butt"/>
<line x1="1331.2" y1="951.24" x2="1414.4" y2="864.88" stroke="#b4b4b4" stroke-width="1.3" stroke-linecap="butt"/>
<line x1="1331.2" y1="951.24" x2="1414.4" y2="1043.35" stroke="#b4b4b4" stroke-width="1.3" stroke-linecap="butt"/>
<line x1="1331.2" y1="966.16" x2="1414.4" y2="877.68" stroke="#b4b4b4" stroke-width="1.3" stroke-linecap="butt"/>
<line x1="1331.2" y1="1024.16" x2="1414.4" y2="993.88" stroke="#b4b4b4" stroke-width="1.3" stroke-linecap="butt"/>
<line x1="1331.2" y1="1024.16" x2="1414.4" y2="1052.52" stroke="#b4b4b4" stroke-width="1.3" stroke-linecap="butt"/>
<line x1="1331.2" y1="1036.52" x2="1414.4" y2="1045.05" stroke="#b4b4b4" stroke-width="1.3" stroke-linecap="butt"/>
<line x1="1331.2" y1="1064.67" x2="1414.4" y2="1043.35" stroke="#b4b4b4" stroke-width="1.3" stroke-linecap="butt"/>
<line x1="1276.9" y1="821.02" x2="1276.9" y2="1081.67" stroke="#000" stroke-width="2.95" stroke-linecap="butt"/>
<line x1="1275.43" y1="1080.2" x2="1469.2" y2="1080.2" stroke="#000" stroke-width="2.95" stroke-linecap="butt"/>
<line x1="1264.93" y1="1067.9" x2="1276.9" y2="1067.9" stroke="#000" stroke-width="2.95" stroke-linecap="butt"/>
<text x="1260.7" y="1075.13" font-size="20.2" text-anchor="end" stroke="#000" stroke-width="0.32">0</text>
<line x1="1264.93" y1="1006.55" x2="1276.9" y2="1006.55" stroke="#000" stroke-width="2.95" stroke-linecap="butt"/>
<text x="1260.7" y="1013.78" font-size="20.2" text-anchor="end" stroke="#000" stroke-width="0.32">20</text>
<line x1="1264.93" y1="945.2" x2="1276.9" y2="945.2" stroke="#000" stroke-width="2.95" stroke-linecap="butt"/>
<text x="1260.7" y="952.43" font-size="20.2" text-anchor="end" stroke="#000" stroke-width="0.32">40</text>
<line x1="1264.93" y1="883.85" x2="1276.9" y2="883.85" stroke="#000" stroke-width="2.95" stroke-linecap="butt"/>
<text x="1260.7" y="891.08" font-size="20.2" text-anchor="end" stroke="#000" stroke-width="0.32">60</text>
<line x1="1264.93" y1="822.5" x2="1276.9" y2="822.5" stroke="#000" stroke-width="2.95" stroke-linecap="butt"/>
<text x="1260.7" y="829.73" font-size="20.2" text-anchor="end" stroke="#000" stroke-width="0.32">80</text>
<line x1="1331.2" y1="1080.2" x2="1331.2" y2="1090.7" stroke="#000" stroke-width="2.95" stroke-linecap="butt"/>
<text x="1331.2" y="1113.8" font-size="21.1" text-anchor="middle" stroke="#000" stroke-width="0.32">Saline</text>
<line x1="1414.4" y1="1080.2" x2="1414.4" y2="1090.7" stroke="#000" stroke-width="2.95" stroke-linecap="butt"/>
<text x="1414.4" y="1113.8" font-size="21.1" text-anchor="middle" stroke="#000" stroke-width="0.32">CNO</text>
<path d="M1331.2 863.4 L1331.2 834.6 L1414.4 834.6 L1414.4 851.2" fill="none" stroke="#000" stroke-width="2.95" stroke-linejoin="round" stroke-linejoin="miter"/>
<text x="1373.2" y="820.7" font-size="20.2" text-anchor="middle" stroke="#000" stroke-width="0.32">ns</text>
<text x="1200.5" y="949.5" font-size="20.5" text-anchor="middle" stroke="#000" stroke-width="0.32" transform="rotate(-90 1200.5 949.5)">Bouts of general allogrooming</text>
<text x="1224.5" y="949.5" font-size="20.5" text-anchor="middle" stroke="#000" stroke-width="0.32" transform="rotate(-90 1224.5 949.5)">+ targeted allolicking</text>
<line x1="1646.5" y1="923.94" x2="1646.5" y2="964.1" stroke="#000" stroke-width="2.95" stroke-linecap="butt"/>
<line x1="1646.5" y1="991.54" x2="1646.5" y2="1022.67" stroke="#000" stroke-width="2.95" stroke-linecap="butt"/>
<line x1="1632" y1="923.94" x2="1661" y2="923.94" stroke="#000" stroke-width="2.95" stroke-linecap="butt"/>
<line x1="1632" y1="1022.67" x2="1661" y2="1022.67" stroke="#000" stroke-width="2.95" stroke-linecap="butt"/>
<rect x="1620.03" y="965.42" width="52.65" height="24.8" fill="#c8c8c8" stroke="#000" stroke-width="2.65"/>
<line x1="1620.03" y1="979.38" x2="1672.67" y2="979.38" stroke="#000" stroke-width="2.65" stroke-linecap="butt"/>
<line x1="1729.7" y1="923.94" x2="1729.7" y2="952.8" stroke="#000" stroke-width="2.95" stroke-linecap="butt"/>
<line x1="1729.7" y1="1007.53" x2="1729.7" y2="1026.5" stroke="#000" stroke-width="2.95" stroke-linecap="butt"/>
<line x1="1715.2" y1="923.94" x2="1744.2" y2="923.94" stroke="#000" stroke-width="2.95" stroke-linecap="butt"/>
<line x1="1715.2" y1="1026.5" x2="1744.2" y2="1026.5" stroke="#000" stroke-width="2.95" stroke-linecap="butt"/>
<rect x="1703.23" y="954.12" width="52.65" height="52.09" fill="#62a8f4" stroke="#000" stroke-width="2.65"/>
<line x1="1703.23" y1="991.75" x2="1755.88" y2="991.75" stroke="#000" stroke-width="2.65" stroke-linecap="butt"/>
<line x1="1646.5" y1="923.94" x2="1729.7" y2="976.82" stroke="#b4b4b4" stroke-width="1.3" stroke-linecap="butt"/>
<line x1="1646.5" y1="965.1" x2="1729.7" y2="923.94" stroke="#b4b4b4" stroke-width="1.3" stroke-linecap="butt"/>
<line x1="1646.5" y1="973.62" x2="1729.7" y2="1026.5" stroke="#b4b4b4" stroke-width="1.3" stroke-linecap="butt"/>
<line x1="1646.5" y1="979.38" x2="1729.7" y2="1000.28" stroke="#b4b4b4" stroke-width="1.3" stroke-linecap="butt"/>
<line x1="1646.5" y1="983.22" x2="1729.7" y2="953.8" stroke="#b4b4b4" stroke-width="1.3" stroke-linecap="butt"/>
<line x1="1646.5" y1="990.04" x2="1729.7" y2="996.01" stroke="#b4b4b4" stroke-width="1.3" stroke-linecap="butt"/>
<line x1="1646.5" y1="990.04" x2="1729.7" y2="1010.94" stroke="#b4b4b4" stroke-width="1.3" stroke-linecap="butt"/>
<line x1="1646.5" y1="990.04" x2="1729.7" y2="961.9" stroke="#b4b4b4" stroke-width="1.3" stroke-linecap="butt"/>
<line x1="1646.5" y1="1022.67" x2="1729.7" y2="985.35" stroke="#b4b4b4" stroke-width="1.3" stroke-linecap="butt"/>
<line x1="1646.5" y1="974.69" x2="1729.7" y2="1004.54" stroke="#b4b4b4" stroke-width="1.3" stroke-linecap="butt"/>
<line x1="1591.5" y1="821.02" x2="1591.5" y2="1081.67" stroke="#000" stroke-width="2.95" stroke-linecap="butt"/>
<line x1="1590.03" y1="1080.2" x2="1784.5" y2="1080.2" stroke="#000" stroke-width="2.95" stroke-linecap="butt"/>
<line x1="1579.53" y1="1067.9" x2="1591.5" y2="1067.9" stroke="#000" stroke-width="2.95" stroke-linecap="butt"/>
<text x="1575.3" y="1075.13" font-size="20.2" text-anchor="end" stroke="#000" stroke-width="0.32">0</text>
<line x1="1579.53" y1="986.1" x2="1591.5" y2="986.1" stroke="#000" stroke-width="2.95" stroke-linecap="butt"/>
<text x="1575.3" y="993.33" font-size="20.2" text-anchor="end" stroke="#000" stroke-width="0.32">20</text>
<line x1="1579.53" y1="904.3" x2="1591.5" y2="904.3" stroke="#000" stroke-width="2.95" stroke-linecap="butt"/>
<text x="1575.3" y="911.53" font-size="20.2" text-anchor="end" stroke="#000" stroke-width="0.32">40</text>
<line x1="1579.53" y1="822.5" x2="1591.5" y2="822.5" stroke="#000" stroke-width="2.95" stroke-linecap="butt"/>
<text x="1575.3" y="829.73" font-size="20.2" text-anchor="end" stroke="#000" stroke-width="0.32">60</text>
<line x1="1646.5" y1="1080.2" x2="1646.5" y2="1090.7" stroke="#000" stroke-width="2.95" stroke-linecap="butt"/>
<text x="1646.5" y="1113.8" font-size="21.1" text-anchor="middle" stroke="#000" stroke-width="0.32">Saline</text>
<line x1="1729.7" y1="1080.2" x2="1729.7" y2="1090.7" stroke="#000" stroke-width="2.95" stroke-linecap="butt"/>
<text x="1729.7" y="1113.8" font-size="21.1" text-anchor="middle" stroke="#000" stroke-width="0.32">CNO</text>
<path d="M1646.5 910.3 L1646.5 894.3 L1729.7 894.3 L1729.7 910.3" fill="none" stroke="#000" stroke-width="2.95" stroke-linejoin="round" stroke-linejoin="miter"/>
<text x="1688.5" y="880.4" font-size="20.2" text-anchor="middle" stroke="#000" stroke-width="0.32">ns</text>
<text x="1539.8" y="949.5" font-size="20.5" text-anchor="middle" stroke="#000" stroke-width="0.32" transform="rotate(-90 1539.8 949.5)">Bouts of investigation</text>
<!-- 40_panels_ef.py -->
<path d="M95.94 1419.62 L114.65 1424.33 L135.44 1429.32 L156.23 1432.37 L177.02 1433.76 L190.88 1433.48 L204.74 1431.68 L218.6 1428.21 L232.46 1422.67 L246.32 1416.43 L260.18 1409.5 L276.12 1400.49" fill="none" stroke="#e09a98" stroke-width="1.3" stroke-linejoin="round" stroke-dasharray="4.2 2.3"/>
<path d="M95.94 1529.39 L114.65 1517.61 L135.44 1505.14 L156.23 1494.05 L177.02 1484.35 L190.88 1480.19 L204.74 1477.83 L218.6 1477 L232.46 1477.83 L246.32 1479.49 L260.18 1480.88 L274.04 1482.96" fill="none" stroke="#e09a98" stroke-width="1.3" stroke-linejoin="round" stroke-dasharray="4.2 2.3"/>
<line x1="95.95" y1="1474.29" x2="278.25" y2="1441.24" stroke="#df544d" stroke-width="1.4" stroke-linecap="butt"/>
<circle cx="95.95" cy="1489.21" r="4.65" fill="none" stroke="#df544d" stroke-width="2.3"/>
<circle cx="109.81" cy="1489.21" r="4.65" fill="none" stroke="#df544d" stroke-width="2.3"/>
<circle cx="146.48" cy="1477.48" r="4.65" fill="none" stroke="#df544d" stroke-width="2.3"/>
<circle cx="168.44" cy="1477.48" r="4.65" fill="none" stroke="#df544d" stroke-width="2.3"/>
<circle cx="184.43" cy="1423.11" r="4.65" fill="none" stroke="#df544d" stroke-width="2.3"/>
<circle cx="192.54" cy="1487.72" r="4.65" fill="none" stroke="#df544d" stroke-width="2.3"/>
<circle cx="201.07" cy="1480.26" r="4.65" fill="none" stroke="#df544d" stroke-width="2.3"/>
<circle cx="204.05" cy="1465.33" r="4.65" fill="none" stroke="#df544d" stroke-width="2.3"/>
<circle cx="210.66" cy="1371.51" r="4.65" fill="none" stroke="#df544d" stroke-width="2.3"/>
<circle cx="218.98" cy="1368.96" r="4.65" fill="none" stroke="#df544d" stroke-width="2.3"/>
<circle cx="229.85" cy="1420.55" r="4.65" fill="none" stroke="#df544d" stroke-width="2.3"/>
<circle cx="231.77" cy="1482.81" r="4.65" fill="none" stroke="#df544d" stroke-width="2.3"/>
<circle cx="247.97" cy="1482.81" r="4.65" fill="none" stroke="#df544d" stroke-width="2.3"/>
<circle cx="248.61" cy="1395.82" r="4.65" fill="none" stroke="#df544d" stroke-width="2.3"/>
<circle cx="275.05" cy="1486.65" r="4.65" fill="none" stroke="#df544d" stroke-width="2.3"/>
<circle cx="277.83" cy="1487.08" r="4.65" fill="none" stroke="#df544d" stroke-width="2.3"/>
<line x1="82.7" y1="1320.6" x2="82.7" y2="1573.6" stroke="#000" stroke-width="2.4" stroke-linecap="butt"/>
<line x1="81.5" y1="1572.4" x2="334.2" y2="1572.4" stroke="#000" stroke-width="2.4" stroke-linecap="butt"/>
<line x1="72.2" y1="1544.3" x2="82.7" y2="1544.3" stroke="#000" stroke-width="2.4" stroke-linecap="butt"/>
<text x="67.5" y="1551.6" font-size="19.7" text-anchor="end" stroke="#000" stroke-width="0.32">-100</text>
<line x1="72.2" y1="1488.67" x2="82.7" y2="1488.67" stroke="#000" stroke-width="2.4" stroke-linecap="butt"/>
<text x="67.5" y="1495.97" font-size="19.7" text-anchor="end" stroke="#000" stroke-width="0.32">0</text>
<line x1="72.2" y1="1433.04" x2="82.7" y2="1433.04" stroke="#000" stroke-width="2.4" stroke-linecap="butt"/>
<text x="67.5" y="1440.34" font-size="19.7" text-anchor="end" stroke="#000" stroke-width="0.32">100</text>
<line x1="72.2" y1="1377.41" x2="82.7" y2="1377.41" stroke="#000" stroke-width="2.4" stroke-linecap="butt"/>
<text x="67.5" y="1384.71" font-size="19.7" text-anchor="end" stroke="#000" stroke-width="0.32">200</text>
<line x1="72.2" y1="1321.78" x2="82.7" y2="1321.78" stroke="#000" stroke-width="2.4" stroke-linecap="butt"/>
<text x="67.5" y="1329.08" font-size="19.7" text-anchor="end" stroke="#000" stroke-width="0.32">300</text>
<line x1="82.7" y1="1572.4" x2="82.7" y2="1582.4" stroke="#000" stroke-width="2.4" stroke-linecap="butt"/>
<text x="82.7" y="1604.8" font-size="19.7" text-anchor="middle" stroke="#000" stroke-width="0.32">0</text>
<line x1="166.13" y1="1572.4" x2="166.13" y2="1582.4" stroke="#000" stroke-width="2.4" stroke-linecap="butt"/>
<text x="166.13" y="1604.8" font-size="19.7" text-anchor="middle" stroke="#000" stroke-width="0.32">50</text>
<line x1="249.56" y1="1572.4" x2="249.56" y2="1582.4" stroke="#000" stroke-width="2.4" stroke-linecap="butt"/>
<text x="249.56" y="1604.8" font-size="19.7" text-anchor="middle" stroke="#000" stroke-width="0.32">100</text>
<line x1="332.99" y1="1572.4" x2="332.99" y2="1582.4" stroke="#000" stroke-width="2.4" stroke-linecap="butt"/>
<text x="332.99" y="1604.8" font-size="19.7" text-anchor="middle" stroke="#000" stroke-width="0.32">150</text>
<text x="208" y="1633.2" font-size="20.45" text-anchor="middle" stroke="#000" stroke-width="0.32">Investigation duration (s)</text>
<text x="16.3" y="1446.5" font-size="20.3" text-anchor="middle" stroke="#000" stroke-width="0.32" transform="rotate(-90 16.3 1446.5)">Targeted allolicking (s)</text>
<text x="200.3" y="1300.3" font-size="22.9" text-anchor="middle" stroke="#000" stroke-width="0.32">R<tspan font-size="13.5" dy="-8">2</tspan><tspan dy="8"> = 0.048</tspan></text>
<text x="200.3" y="1325.6" font-size="22.9" text-anchor="middle" stroke="#000" stroke-width="0.32"><tspan font-style="italic">P</tspan> = 0.42</text>
<path d="M480.87 1452.96 L497.93 1454.24 L519.25 1455.31 L540.58 1455.74 L557.63 1455.1 L572.56 1453.39 L587.48 1450.41 L602.41 1445.93 L617.33 1440.17 L632.26 1433.77 L647.19 1427.8 L661.68 1422.05" fill="none" stroke="#dba57e" stroke-width="1.3" stroke-linejoin="round" stroke-dasharray="4.2 2.3"/>
<path d="M480.87 1530.79 L497.93 1522.69 L514.99 1514.16 L532.05 1505.63 L549.1 1497.74 L566.16 1490.7 L583.22 1484.95 L598.14 1481.32 L615.2 1479.19 L630.13 1478.98 L647.19 1479.62 L661.68 1480.26" fill="none" stroke="#dba57e" stroke-width="1.3" stroke-linejoin="round" stroke-dasharray="4.2 2.3"/>
<line x1="494.31" y1="1487.72" x2="661.68" y2="1449.34" stroke="#ee9a58" stroke-width="1.4" stroke-linecap="butt"/>
<circle cx="480.87" cy="1488.78" r="4.65" fill="none" stroke="#ee9a58" stroke-width="2.3"/>
<circle cx="494.31" cy="1488.78" r="4.65" fill="none" stroke="#ee9a58" stroke-width="2.3"/>
<circle cx="530.55" cy="1488.78" r="4.65" fill="none" stroke="#ee9a58" stroke-width="2.3"/>
<circle cx="552.73" cy="1488.78" r="4.65" fill="none" stroke="#ee9a58" stroke-width="2.3"/>
<circle cx="568.72" cy="1483.88" r="4.65" fill="none" stroke="#ee9a58" stroke-width="2.3"/>
<circle cx="576.4" cy="1488.78" r="4.65" fill="none" stroke="#ee9a58" stroke-width="2.3"/>
<circle cx="585.35" cy="1473.65" r="4.65" fill="none" stroke="#ee9a58" stroke-width="2.3"/>
<circle cx="588.12" cy="1408.19" r="4.65" fill="none" stroke="#ee9a58" stroke-width="2.3"/>
<circle cx="594.95" cy="1485.59" r="4.65" fill="none" stroke="#ee9a58" stroke-width="2.3"/>
<circle cx="602.41" cy="1454.03" r="4.65" fill="none" stroke="#ee9a58" stroke-width="2.3"/>
<circle cx="614.56" cy="1385.8" r="4.65" fill="none" stroke="#ee9a58" stroke-width="2.3"/>
<circle cx="615.84" cy="1480.68" r="4.65" fill="none" stroke="#ee9a58" stroke-width="2.3"/>
<circle cx="632.69" cy="1487.72" r="4.65" fill="none" stroke="#ee9a58" stroke-width="2.3"/>
<circle cx="632.69" cy="1461.49" r="4.65" fill="none" stroke="#ee9a58" stroke-width="2.3"/>
<circle cx="659.34" cy="1487.08" r="4.65" fill="none" stroke="#ee9a58" stroke-width="2.3"/>
<circle cx="661.68" cy="1427.38" r="4.65" fill="none" stroke="#ee9a58" stroke-width="2.3"/>
<line x1="467.7" y1="1320.6" x2="467.7" y2="1573.6" stroke="#000" stroke-width="2.4" stroke-linecap="butt"/>
<line x1="466.5" y1="1572.4" x2="719.2" y2="1572.4" stroke="#000" stroke-width="2.4" stroke-linecap="butt"/>
<line x1="457.2" y1="1544.3" x2="467.7" y2="1544.3" stroke="#000" stroke-width="2.4" stroke-linecap="butt"/>
<text x="452.5" y="1551.6" font-size="19.7" text-anchor="end" stroke="#000" stroke-width="0.32">-100</text>
<line x1="457.2" y1="1488.67" x2="467.7" y2="1488.67" stroke="#000" stroke-width="2.4" stroke-linecap="butt"/>
<text x="452.5" y="1495.97" font-size="19.7" text-anchor="end" stroke="#000" stroke-width="0.32">0</text>
<line x1="457.2" y1="1433.04" x2="467.7" y2="1433.04" stroke="#000" stroke-width="2.4" stroke-linecap="butt"/>
<text x="452.5" y="1440.34" font-size="19.7" text-anchor="end" stroke="#000" stroke-width="0.32">100</text>
<line x1="457.2" y1="1377.41" x2="467.7" y2="1377.41" stroke="#000" stroke-width="2.4" stroke-linecap="butt"/>
<text x="452.5" y="1384.71" font-size="19.7" text-anchor="end" stroke="#000" stroke-width="0.32">200</text>
<line x1="457.2" y1="1321.78" x2="467.7" y2="1321.78" stroke="#000" stroke-width="2.4" stroke-linecap="butt"/>
<text x="452.5" y="1329.08" font-size="19.7" text-anchor="end" stroke="#000" stroke-width="0.32">300</text>
<line x1="467.7" y1="1572.4" x2="467.7" y2="1582.4" stroke="#000" stroke-width="2.4" stroke-linecap="butt"/>
<text x="467.7" y="1604.8" font-size="19.7" text-anchor="middle" stroke="#000" stroke-width="0.32">0</text>
<line x1="551.13" y1="1572.4" x2="551.13" y2="1582.4" stroke="#000" stroke-width="2.4" stroke-linecap="butt"/>
<text x="551.13" y="1604.8" font-size="19.7" text-anchor="middle" stroke="#000" stroke-width="0.32">50</text>
<line x1="634.56" y1="1572.4" x2="634.56" y2="1582.4" stroke="#000" stroke-width="2.4" stroke-linecap="butt"/>
<text x="634.56" y="1604.8" font-size="19.7" text-anchor="middle" stroke="#000" stroke-width="0.32">100</text>
<line x1="717.99" y1="1572.4" x2="717.99" y2="1582.4" stroke="#000" stroke-width="2.4" stroke-linecap="butt"/>
<text x="717.99" y="1604.8" font-size="19.7" text-anchor="middle" stroke="#000" stroke-width="0.32">150</text>
<text x="592.3" y="1633.2" font-size="20.45" text-anchor="middle" stroke="#000" stroke-width="0.32">Investigation duration (s)</text>
<text x="402.3" y="1445.5" font-size="20.3" text-anchor="middle" stroke="#000" stroke-width="0.32" transform="rotate(-90 402.3 1445.5)">General allogrooming (s)</text>
<text x="593.5" y="1300.3" font-size="22.9" text-anchor="middle" stroke="#000" stroke-width="0.32">R<tspan font-size="13.5" dy="-8">2</tspan><tspan dy="8"> = 0.14</tspan></text>
<text x="593.5" y="1325.6" font-size="22.9" text-anchor="middle" stroke="#000" stroke-width="0.32"><tspan font-style="italic">P</tspan> = 0.16</text>
<!-- 50_panel_g.py -->
<circle cx="1307.8" cy="1362" r="35.6" fill="#c9c9c9" stroke="none" stroke-width="0"/>
<circle cx="842.1" cy="1535.5" r="35.6" fill="#c9c9c9" stroke="none" stroke-width="0"/>
<path d="M1241 1321.7 L1241 1425.8 L1347.4 1425.8" fill="none" stroke="#4d4d4d" stroke-width="1.2" stroke-linejoin="round" stroke-dasharray="5.5 4.5"/>
<path d="M804.8 1469.4 L909.9 1469.4 L909.9 1572.5" fill="none" stroke="#4d4d4d" stroke-width="1.2" stroke-linejoin="round" stroke-dasharray="5.5 4.5"/>
<line x1="803.8" y1="1574.9" x2="905" y2="1574.9" stroke="#4d4d4d" stroke-width="1" stroke-linecap="butt" stroke-dasharray="5.5 4.5"/>
<rect x="805" y="1321.9" width="542.2" height="250.4" fill="none" stroke="#000" stroke-width="2.4"/>
<line x1="993.5" y1="1320.7" x2="993.5" y2="1423.5" stroke="#000" stroke-width="2.4" stroke-linecap="butt"/>
<line x1="993.5" y1="1478.6" x2="993.5" y2="1573.5" stroke="#000" stroke-width="2.4" stroke-linecap="butt"/>
<line x1="1158" y1="1320.7" x2="1158" y2="1423.5" stroke="#000" stroke-width="2.4" stroke-linecap="butt"/>
<line x1="1158" y1="1478.6" x2="1158" y2="1573.5" stroke="#000" stroke-width="2.4" stroke-linecap="butt"/>
<text x="1307.9" y="1370.6" font-size="24.2" text-anchor="middle" stroke="#000" stroke-width="0.32">Mouse</text>
<text x="842" y="1544" font-size="24.2" text-anchor="middle" stroke="#000" stroke-width="0.32">Object</text>
<text x="1283.7" y="1455" font-size="23" text-anchor="middle" stroke="#000" stroke-width="0.32">Social zone</text>
<text x="893.2" y="1456.3" font-size="23" text-anchor="middle" stroke="#000" stroke-width="0.32">Non-social zone</text>
<!-- 60_panels_hi.py -->
<rect x="1494.7" y="1217.5" width="27.2" height="13.4" fill="#d9d9d9" stroke="#000" stroke-width="1.8"/>
<text x="1537.5" y="1230.4" font-size="20.4" text-anchor="start" stroke="#000" stroke-width="0.32">Saline</text>
<rect x="1609.6" y="1217.5" width="27.2" height="13.4" fill="#62acf7" stroke="#000" stroke-width="1.8"/>
<text x="1652.2" y="1230.4" font-size="20.4" text-anchor="start" stroke="#000" stroke-width="0.32">CNO</text>
<line x1="1514.42" y1="1499.54" x2="1514.42" y2="1517.06" stroke="#000" stroke-width="2.45" stroke-linecap="butt"/>
<line x1="1514.42" y1="1551.5" x2="1514.42" y2="1559.26" stroke="#000" stroke-width="2.45" stroke-linecap="butt"/>
<line x1="1504.62" y1="1499.54" x2="1524.22" y2="1499.54" stroke="#000" stroke-width="2.45" stroke-linecap="butt"/>
<line x1="1504.62" y1="1559.26" x2="1524.22" y2="1559.26" stroke="#000" stroke-width="2.45" stroke-linecap="butt"/>
<rect x="1498.54" y="1518.29" width="31.75" height="31.99" fill="#d9d9d9" stroke="#000" stroke-width="2.45"/>
<line x1="1498.54" y1="1538.74" x2="1530.29" y2="1538.74" stroke="#000" stroke-width="2.45" stroke-linecap="butt"/>
<line x1="1566.23" y1="1370.21" x2="1566.23" y2="1421.34" stroke="#000" stroke-width="2.45" stroke-linecap="butt"/>
<line x1="1566.23" y1="1498.04" x2="1566.23" y2="1512.42" stroke="#000" stroke-width="2.45" stroke-linecap="butt"/>
<line x1="1556.43" y1="1370.21" x2="1576.03" y2="1370.21" stroke="#000" stroke-width="2.45" stroke-linecap="butt"/>
<line x1="1556.43" y1="1512.42" x2="1576.03" y2="1512.42" stroke="#000" stroke-width="2.45" stroke-linecap="butt"/>
<rect x="1550.35" y="1422.56" width="31.75" height="74.25" fill="#d9d9d9" stroke="#000" stroke-width="2.45"/>
<line x1="1550.35" y1="1453.45" x2="1582.1" y2="1453.45" stroke="#000" stroke-width="2.45" stroke-linecap="butt"/>
<line x1="1651.89" y1="1500.05" x2="1651.89" y2="1511.21" stroke="#000" stroke-width="2.45" stroke-linecap="butt"/>
<line x1="1651.89" y1="1547.94" x2="1651.89" y2="1557.73" stroke="#000" stroke-width="2.45" stroke-linecap="butt"/>
<line x1="1642.09" y1="1500.05" x2="1661.69" y2="1500.05" stroke="#000" stroke-width="2.45" stroke-linecap="butt"/>
<line x1="1642.09" y1="1557.73" x2="1661.69" y2="1557.73" stroke="#000" stroke-width="2.45" stroke-linecap="butt"/>
<rect x="1636.02" y="1512.43" width="31.75" height="34.28" fill="#62acf7" stroke="#000" stroke-width="2.45"/>
<line x1="1636.02" y1="1526.26" x2="1667.77" y2="1526.26" stroke="#000" stroke-width="2.45" stroke-linecap="butt"/>
<line x1="1703.57" y1="1335.85" x2="1703.57" y2="1410.65" stroke="#000" stroke-width="2.45" stroke-linecap="butt"/>
<line x1="1703.57" y1="1503.9" x2="1703.57" y2="1519.8" stroke="#000" stroke-width="2.45" stroke-linecap="butt"/>
<line x1="1693.77" y1="1335.85" x2="1713.37" y2="1335.85" stroke="#000" stroke-width="2.45" stroke-linecap="butt"/>
<line x1="1693.77" y1="1519.8" x2="1713.37" y2="1519.8" stroke="#000" stroke-width="2.45" stroke-linecap="butt"/>
<rect x="1687.7" y="1411.87" width="31.75" height="90.8" fill="#62acf7" stroke="#000" stroke-width="2.45"/>
<line x1="1687.7" y1="1475.86" x2="1719.45" y2="1475.86" stroke="#000" stroke-width="2.45" stroke-linecap="butt"/>
<line x1="1480" y1="1323.98" x2="1480" y2="1583.22" stroke="#000" stroke-width="2.45" stroke-linecap="butt"/>
<line x1="1478.78" y1="1582" x2="1737.7" y2="1582" stroke="#000" stroke-width="2.45" stroke-linecap="butt"/>
<line x1="1468.5" y1="1582" x2="1480" y2="1582" stroke="#000" stroke-width="2.45" stroke-linecap="butt"/>
<text x="1465" y="1589.1" font-size="19.8" text-anchor="end" stroke="#000" stroke-width="0.32">0</text>
<line x1="1468.5" y1="1530.64" x2="1480" y2="1530.64" stroke="#000" stroke-width="2.45" stroke-linecap="butt"/>
<text x="1465" y="1537.74" font-size="19.8" text-anchor="end" stroke="#000" stroke-width="0.32">100</text>
<line x1="1468.5" y1="1479.28" x2="1480" y2="1479.28" stroke="#000" stroke-width="2.45" stroke-linecap="butt"/>
<text x="1465" y="1486.38" font-size="19.8" text-anchor="end" stroke="#000" stroke-width="0.32">200</text>
<line x1="1468.5" y1="1427.92" x2="1480" y2="1427.92" stroke="#000" stroke-width="2.45" stroke-linecap="butt"/>
<text x="1465" y="1435.02" font-size="19.8" text-anchor="end" stroke="#000" stroke-width="0.32">300</text>
<line x1="1468.5" y1="1376.56" x2="1480" y2="1376.56" stroke="#000" stroke-width="2.45" stroke-linecap="butt"/>
<text x="1465" y="1383.66" font-size="19.8" text-anchor="end" stroke="#000" stroke-width="0.32">400</text>
<line x1="1468.5" y1="1325.2" x2="1480" y2="1325.2" stroke="#000" stroke-width="2.45" stroke-linecap="butt"/>
<text x="1465" y="1332.3" font-size="19.8" text-anchor="end" stroke="#000" stroke-width="0.32">500</text>
<line x1="1514.42" y1="1582" x2="1514.42" y2="1593.8" stroke="#000" stroke-width="2.45" stroke-linecap="butt"/>
<text x="1519.62" y="1608.5" font-size="19.8" text-anchor="end" stroke="#000" stroke-width="0.32" transform="rotate(-45 1519.62 1608.5)">Object</text>
<line x1="1565.85" y1="1582" x2="1565.85" y2="1593.8" stroke="#000" stroke-width="2.45" stroke-linecap="butt"/>
<text x="1571.05" y="1608.5" font-size="19.8" text-anchor="end" stroke="#000" stroke-width="0.32" transform="rotate(-45 1571.05 1608.5)">Mouse</text>
<line x1="1651.89" y1="1582" x2="1651.89" y2="1593.8" stroke="#000" stroke-width="2.45" stroke-linecap="butt"/>
<text x="1657.09" y="1608.5" font-size="19.8" text-anchor="end" stroke="#000" stroke-width="0.32" transform="rotate(-45 1657.09 1608.5)">Object</text>
<line x1="1703.32" y1="1582" x2="1703.32" y2="1593.8" stroke="#000" stroke-width="2.45" stroke-linecap="butt"/>
<text x="1708.52" y="1608.5" font-size="19.8" text-anchor="end" stroke="#000" stroke-width="0.32" transform="rotate(-45 1708.52 1608.5)">Mouse</text>
<text x="1422" y="1454.2" font-size="20.3" text-anchor="middle" stroke="#000" stroke-width="0.32" transform="rotate(-90 1422 1454.2)">Time (s) in social zone</text>
<path d="M1514.42 1494.96 L1514.42 1352.39 L1565.85 1352.39 L1565.85 1365.12" fill="none" stroke="#000" stroke-width="2.45" stroke-linejoin="round" stroke-linejoin="miter"/>
<path d="M1514.42 1332.03 L1514.42 1315.73 L1646.55 1315.73 L1646.55 1491.14" fill="none" stroke="#000" stroke-width="2.45" stroke-linejoin="round" stroke-linejoin="miter"/>
<path d="M1565.85 1304.02 L1565.85 1280.35 L1703.83 1280.35 L1703.83 1304.02" fill="none" stroke="#000" stroke-width="2.45" stroke-linejoin="round" stroke-linejoin="miter"/>
<path d="M1656.99 1491.14 L1656.99 1315.73 L1703.83 1315.73 L1703.83 1325.66" fill="none" stroke="#000" stroke-width="2.45" stroke-linejoin="round" stroke-linejoin="miter"/>
<text x="1634.58" y="1265.84" font-size="19.8" text-anchor="middle" stroke="#000" stroke-width="0.32">ns</text>
<text x="1581.12" y="1300.97" font-size="19.8" text-anchor="middle" stroke="#000" stroke-width="0.32">ns</text>
<text x="1540.64" y="1348.07" font-size="31" text-anchor="middle" font-weight="bold">**</text>
<text x="1680.41" y="1311.66" font-size="31" text-anchor="middle" font-weight="bold">**</text>
<line x1="1898.89" y1="1359.32" x2="1898.89" y2="1370.08" stroke="#000" stroke-width="2.45" stroke-linecap="butt"/>
<line x1="1898.89" y1="1511.73" x2="1898.89" y2="1537.06" stroke="#000" stroke-width="2.45" stroke-linecap="butt"/>
<line x1="1884.29" y1="1359.32" x2="1913.49" y2="1359.32" stroke="#000" stroke-width="2.45" stroke-linecap="butt"/>
<line x1="1884.29" y1="1537.06" x2="1913.49" y2="1537.06" stroke="#000" stroke-width="2.45" stroke-linecap="butt"/>
<rect x="1872.45" y="1371.3" width="52.88" height="139.2" fill="#d9d9d9" stroke="#000" stroke-width="2.45"/>
<line x1="1872.45" y1="1409.74" x2="1925.33" y2="1409.74" stroke="#000" stroke-width="2.45" stroke-linecap="butt"/>
<line x1="1981.65" y1="1355.76" x2="1981.65" y2="1377.72" stroke="#000" stroke-width="2.45" stroke-linecap="butt"/>
<line x1="1981.65" y1="1503.58" x2="1981.65" y2="1539.1" stroke="#000" stroke-width="2.45" stroke-linecap="butt"/>
<line x1="1967.05" y1="1355.76" x2="1996.25" y2="1355.76" stroke="#000" stroke-width="2.45" stroke-linecap="butt"/>
<line x1="1967.05" y1="1539.1" x2="1996.25" y2="1539.1" stroke="#000" stroke-width="2.45" stroke-linecap="butt"/>
<rect x="1955.21" y="1378.94" width="52.88" height="123.41" fill="#62acf7" stroke="#000" stroke-width="2.45"/>
<line x1="1955.21" y1="1456.09" x2="2008.09" y2="1456.09" stroke="#000" stroke-width="2.45" stroke-linecap="butt"/>
<line x1="1844" y1="1292.18" x2="1844" y2="1583.32" stroke="#000" stroke-width="2.45" stroke-linecap="butt"/>
<line x1="1842.78" y1="1582.1" x2="2040" y2="1582.1" stroke="#000" stroke-width="2.45" stroke-linecap="butt"/>
<line x1="1832.5" y1="1582.1" x2="1844" y2="1582.1" stroke="#000" stroke-width="2.45" stroke-linecap="butt"/>
<text x="1828" y="1589.2" font-size="19.8" text-anchor="end" stroke="#000" stroke-width="0.32">-0.2</text>
<line x1="1832.5" y1="1533.98" x2="1844" y2="1533.98" stroke="#000" stroke-width="2.45" stroke-linecap="butt"/>
<text x="1828" y="1541.08" font-size="19.8" text-anchor="end" stroke="#000" stroke-width="0.32">0.0</text>
<line x1="1832.5" y1="1485.87" x2="1844" y2="1485.87" stroke="#000" stroke-width="2.45" stroke-linecap="butt"/>
<text x="1828" y="1492.97" font-size="19.8" text-anchor="end" stroke="#000" stroke-width="0.32">0.2</text>
<line x1="1832.5" y1="1437.75" x2="1844" y2="1437.75" stroke="#000" stroke-width="2.45" stroke-linecap="butt"/>
<text x="1828" y="1444.85" font-size="19.8" text-anchor="end" stroke="#000" stroke-width="0.32">0.4</text>
<line x1="1832.5" y1="1389.63" x2="1844" y2="1389.63" stroke="#000" stroke-width="2.45" stroke-linecap="butt"/>
<text x="1828" y="1396.73" font-size="19.8" text-anchor="end" stroke="#000" stroke-width="0.32">0.6</text>
<line x1="1832.5" y1="1341.52" x2="1844" y2="1341.52" stroke="#000" stroke-width="2.45" stroke-linecap="butt"/>
<text x="1828" y="1348.62" font-size="19.8" text-anchor="end" stroke="#000" stroke-width="0.32">0.8</text>
<line x1="1832.5" y1="1293.4" x2="1844" y2="1293.4" stroke="#000" stroke-width="2.45" stroke-linecap="butt"/>
<text x="1828" y="1300.5" font-size="19.8" text-anchor="end" stroke="#000" stroke-width="0.32">1.0</text>
<line x1="1898.76" y1="1582.1" x2="1898.76" y2="1593.9" stroke="#000" stroke-width="2.45" stroke-linecap="butt"/>
<text x="1898.76" y="1615.3" font-size="19.8" text-anchor="middle" stroke="#000" stroke-width="0.32">Saline</text>
<line x1="1981.52" y1="1582.1" x2="1981.52" y2="1593.9" stroke="#000" stroke-width="2.45" stroke-linecap="butt"/>
<text x="1981.52" y="1615.3" font-size="19.8" text-anchor="middle" stroke="#000" stroke-width="0.32">CNO</text>
<path d="M1898.76 1344.81 L1898.76 1315.01 L1981.52 1315.01 L1981.52 1340.99" fill="none" stroke="#000" stroke-width="2.45" stroke-linejoin="round" stroke-linejoin="miter"/>
<text x="1940.27" y="1301.01" font-size="19.8" text-anchor="middle" stroke="#000" stroke-width="0.32">ns</text>
<text x="1783.8" y="1437.7" font-size="20.3" text-anchor="middle" stroke="#000" stroke-width="0.32" transform="rotate(-90 1783.8 1437.7)">Sociability score</text>
<!-- 70_panels_jk.py -->
<line x1="518.45" y1="1850.49" x2="518.45" y2="1909.73" stroke="#000" stroke-width="3.05" stroke-linecap="butt"/>
<line x1="518.45" y1="2068.97" x2="518.45" y2="2081.7" stroke="#000" stroke-width="3.05" stroke-linecap="butt"/>
<line x1="502.95" y1="1850.49" x2="533.95" y2="1850.49" stroke="#000" stroke-width="3.05" stroke-linecap="butt"/>
<line x1="502.95" y1="2081.7" x2="533.95" y2="2081.7" stroke="#000" stroke-width="3.05" stroke-linecap="butt"/>
<rect x="490.44" y="1911.28" width="55.61" height="156.13" fill="#c8c8c8" stroke="#000" stroke-width="3.1"/>
<line x1="490.44" y1="2003.17" x2="546.05" y2="2003.17" stroke="#000" stroke-width="3.1" stroke-linecap="butt"/>
<line x1="606.71" y1="1956.69" x2="606.71" y2="1994.74" stroke="#000" stroke-width="3.05" stroke-linecap="butt"/>
<line x1="606.71" y1="2081.25" x2="606.71" y2="2081.7" stroke="#000" stroke-width="3.05" stroke-linecap="butt"/>
<line x1="591.21" y1="1956.69" x2="622.21" y2="1956.69" stroke="#000" stroke-width="3.05" stroke-linecap="butt"/>
<line x1="591.21" y1="2081.7" x2="622.21" y2="2081.7" stroke="#000" stroke-width="3.05" stroke-linecap="butt"/>
<rect x="578.58" y="1996.29" width="55.86" height="83.4" fill="#fb8a86" stroke="#000" stroke-width="3.1"/>
<line x1="578.58" y1="2058.56" x2="634.43" y2="2058.56" stroke="#000" stroke-width="3.1" stroke-linecap="butt"/>
<line x1="518.21" y1="1850.49" x2="606.59" y2="2058.56" stroke="#b4b4b4" stroke-width="1.3" stroke-linecap="butt"/>
<line x1="518.21" y1="1894.8" x2="606.59" y2="2079.02" stroke="#b4b4b4" stroke-width="1.3" stroke-linecap="butt"/>
<line x1="518.21" y1="1910.93" x2="606.59" y2="1995.94" stroke="#b4b4b4" stroke-width="1.3" stroke-linecap="butt"/>
<line x1="518.21" y1="1911.66" x2="606.59" y2="1956.69" stroke="#b4b4b4" stroke-width="1.3" stroke-linecap="butt"/>
<line x1="518.21" y1="1945.37" x2="606.59" y2="1995.94" stroke="#b4b4b4" stroke-width="1.3" stroke-linecap="butt"/>
<line x1="518.21" y1="1988.72" x2="606.59" y2="1988.72" stroke="#b4b4b4" stroke-width="1.3" stroke-linecap="butt"/>
<line x1="518.21" y1="2003.17" x2="606.59" y2="2058.56" stroke="#b4b4b4" stroke-width="1.3" stroke-linecap="butt"/>
<line x1="518.21" y1="2040.49" x2="606.59" y2="2079.75" stroke="#b4b4b4" stroke-width="1.3" stroke-linecap="butt"/>
<line x1="518.21" y1="2067.47" x2="606.59" y2="2058.56" stroke="#b4b4b4" stroke-width="1.3" stroke-linecap="butt"/>
<line x1="518.21" y1="2067.47" x2="606.59" y2="2081.67" stroke="#b4b4b4" stroke-width="1.3" stroke-linecap="butt"/>
<line x1="518.21" y1="2069.39" x2="606.59" y2="2081.67" stroke="#b4b4b4" stroke-width="1.3" stroke-linecap="butt"/>
<line x1="518.21" y1="2081.67" x2="606.59" y2="2081.67" stroke="#b4b4b4" stroke-width="1.3" stroke-linecap="butt"/>
<line x1="459.7" y1="1818.17" x2="459.7" y2="2096.72" stroke="#000" stroke-width="3.05" stroke-linecap="butt"/>
<line x1="458.18" y1="2095.2" x2="665.6" y2="2095.2" stroke="#000" stroke-width="3.05" stroke-linecap="butt"/>
<line x1="447.18" y1="2081.7" x2="459.7" y2="2081.7" stroke="#000" stroke-width="3.05" stroke-linecap="butt"/>
<text x="443.1" y="2089.68" font-size="22.3" text-anchor="end" stroke="#000" stroke-width="0.32">0</text>
<line x1="447.18" y1="2016.2" x2="459.7" y2="2016.2" stroke="#000" stroke-width="3.05" stroke-linecap="butt"/>
<text x="443.1" y="2024.18" font-size="22.3" text-anchor="end" stroke="#000" stroke-width="0.32">100</text>
<line x1="447.18" y1="1950.7" x2="459.7" y2="1950.7" stroke="#000" stroke-width="3.05" stroke-linecap="butt"/>
<text x="443.1" y="1958.68" font-size="22.3" text-anchor="end" stroke="#000" stroke-width="0.32">200</text>
<line x1="447.18" y1="1885.2" x2="459.7" y2="1885.2" stroke="#000" stroke-width="3.05" stroke-linecap="butt"/>
<text x="443.1" y="1893.18" font-size="22.3" text-anchor="end" stroke="#000" stroke-width="0.32">300</text>
<line x1="447.18" y1="1819.7" x2="459.7" y2="1819.7" stroke="#000" stroke-width="3.05" stroke-linecap="butt"/>
<text x="443.1" y="1827.68" font-size="22.3" text-anchor="end" stroke="#000" stroke-width="0.32">400</text>
<line x1="518.21" y1="2095.2" x2="518.21" y2="2106.2" stroke="#000" stroke-width="3.05" stroke-linecap="butt"/>
<text x="518.21" y="2131.5" font-size="22.7" text-anchor="middle" stroke="#000" stroke-width="0.32">Saline</text>
<line x1="606.59" y1="2095.2" x2="606.59" y2="2106.2" stroke="#000" stroke-width="3.05" stroke-linecap="butt"/>
<text x="606.59" y="2131.5" font-size="22.7" text-anchor="middle" stroke="#000" stroke-width="0.32">CNO</text>
<path d="M518.21 1834.6 L518.21 1817.7 L606.59 1817.7 L606.59 1941.3" fill="none" stroke="#000" stroke-width="3.05" stroke-linejoin="round" stroke-linejoin="miter"/>
<text x="562.9" y="1819" font-size="42" text-anchor="middle" font-weight="bold">*</text>
<text x="394" y="1957.4" font-size="22.3" text-anchor="middle" stroke="#000" stroke-width="0.32" transform="rotate(-90 394 1957.4)">Targeted allolicking (s)</text>
<line x1="832.43" y1="1852.66" x2="832.43" y2="1977.4" stroke="#000" stroke-width="3.05" stroke-linecap="butt"/>
<line x1="832.43" y1="2066.08" x2="832.43" y2="2081.7" stroke="#000" stroke-width="3.05" stroke-linecap="butt"/>
<line x1="816.93" y1="1852.66" x2="847.93" y2="1852.66" stroke="#000" stroke-width="3.05" stroke-linecap="butt"/>
<line x1="816.93" y1="2081.7" x2="847.93" y2="2081.7" stroke="#000" stroke-width="3.05" stroke-linecap="butt"/>
<rect x="804.42" y="1978.95" width="55.61" height="85.57" fill="#c8c8c8" stroke="#000" stroke-width="3.1"/>
<line x1="804.42" y1="2022.43" x2="860.03" y2="2022.43" stroke="#000" stroke-width="3.1" stroke-linecap="butt"/>
<line x1="921.05" y1="1908.04" x2="921.05" y2="2036.16" stroke="#000" stroke-width="3.05" stroke-linecap="butt"/>
<line x1="921.05" y1="2076.19" x2="921.05" y2="2081.7" stroke="#000" stroke-width="3.05" stroke-linecap="butt"/>
<line x1="905.55" y1="1908.04" x2="936.55" y2="1908.04" stroke="#000" stroke-width="3.05" stroke-linecap="butt"/>
<line x1="905.55" y1="2081.7" x2="936.55" y2="2081.7" stroke="#000" stroke-width="3.05" stroke-linecap="butt"/>
<rect x="893.04" y="2037.71" width="55.61" height="36.93" fill="#fb8a86" stroke="#000" stroke-width="3.1"/>
<line x1="893.04" y1="2055.67" x2="948.65" y2="2055.67" stroke="#000" stroke-width="3.1" stroke-linecap="butt"/>
<line x1="832.19" y1="1852.66" x2="920.81" y2="2055.67" stroke="#b4b4b4" stroke-width="1.3" stroke-linecap="butt"/>
<line x1="832.19" y1="1962.23" x2="920.81" y2="2037.36" stroke="#b4b4b4" stroke-width="1.3" stroke-linecap="butt"/>
<line x1="832.19" y1="1978.6" x2="920.81" y2="1908.04" stroke="#b4b4b4" stroke-width="1.3" stroke-linecap="butt"/>
<line x1="832.19" y1="1986.31" x2="920.81" y2="2016.41" stroke="#b4b4b4" stroke-width="1.3" stroke-linecap="butt"/>
<line x1="832.19" y1="1988.72" x2="920.81" y2="2055.67" stroke="#b4b4b4" stroke-width="1.3" stroke-linecap="butt"/>
<line x1="832.19" y1="2016.41" x2="920.81" y2="1908.04" stroke="#b4b4b4" stroke-width="1.3" stroke-linecap="butt"/>
<line x1="832.19" y1="2022.43" x2="920.81" y2="2037.36" stroke="#b4b4b4" stroke-width="1.3" stroke-linecap="butt"/>
<line x1="832.19" y1="2059.76" x2="920.81" y2="2066.98" stroke="#b4b4b4" stroke-width="1.3" stroke-linecap="butt"/>
<line x1="832.19" y1="2064.58" x2="920.81" y2="2074.69" stroke="#b4b4b4" stroke-width="1.3" stroke-linecap="butt"/>
<line x1="832.19" y1="2071.8" x2="920.81" y2="2081.67" stroke="#b4b4b4" stroke-width="1.3" stroke-linecap="butt"/>
<line x1="832.19" y1="2081.67" x2="920.81" y2="2077.82" stroke="#b4b4b4" stroke-width="1.3" stroke-linecap="butt"/>
<line x1="832.19" y1="2059.76" x2="920.81" y2="2081.67" stroke="#b4b4b4" stroke-width="1.3" stroke-linecap="butt"/>
<line x1="773.7" y1="1818.17" x2="773.7" y2="2096.72" stroke="#000" stroke-width="3.05" stroke-linecap="butt"/>
<line x1="772.18" y1="2095.2" x2="979.8" y2="2095.2" stroke="#000" stroke-width="3.05" stroke-linecap="butt"/>
<line x1="761.18" y1="2081.7" x2="773.7" y2="2081.7" stroke="#000" stroke-width="3.05" stroke-linecap="butt"/>
<text x="757.1" y="2089.68" font-size="22.3" text-anchor="end" stroke="#000" stroke-width="0.32">0</text>
<line x1="761.18" y1="2016.2" x2="773.7" y2="2016.2" stroke="#000" stroke-width="3.05" stroke-linecap="butt"/>
<text x="757.1" y="2024.18" font-size="22.3" text-anchor="end" stroke="#000" stroke-width="0.32">20</text>
<line x1="761.18" y1="1950.7" x2="773.7" y2="1950.7" stroke="#000" stroke-width="3.05" stroke-linecap="butt"/>
<text x="757.1" y="1958.68" font-size="22.3" text-anchor="end" stroke="#000" stroke-width="0.32">40</text>
<line x1="761.18" y1="1885.2" x2="773.7" y2="1885.2" stroke="#000" stroke-width="3.05" stroke-linecap="butt"/>
<text x="757.1" y="1893.18" font-size="22.3" text-anchor="end" stroke="#000" stroke-width="0.32">60</text>
<line x1="761.18" y1="1819.7" x2="773.7" y2="1819.7" stroke="#000" stroke-width="3.05" stroke-linecap="butt"/>
<text x="757.1" y="1827.68" font-size="22.3" text-anchor="end" stroke="#000" stroke-width="0.32">80</text>
<line x1="832.19" y1="2095.2" x2="832.19" y2="2106.2" stroke="#000" stroke-width="3.05" stroke-linecap="butt"/>
<text x="832.19" y="2131.5" font-size="22.7" text-anchor="middle" stroke="#000" stroke-width="0.32">Saline</text>
<line x1="920.81" y1="2095.2" x2="920.81" y2="2106.2" stroke="#000" stroke-width="3.05" stroke-linecap="butt"/>
<text x="920.81" y="2131.5" font-size="22.7" text-anchor="middle" stroke="#000" stroke-width="0.32">CNO</text>
<path d="M832.19 1837 L832.19 1820.1 L920.81 1820.1 L920.81 1893.1" fill="none" stroke="#000" stroke-width="3.05" stroke-linejoin="round" stroke-linejoin="miter"/>
<text x="875.9" y="1806.6" font-size="21.6" text-anchor="middle" stroke="#000" stroke-width="0.32">P = 0.0791</text>
<text x="722" y="1957.4" font-size="22.3" text-anchor="middle" stroke="#000" stroke-width="0.32" transform="rotate(-90 722 1957.4)">Bouts of targeted allolicking</text>
<line x1="1155.2" y1="1875.77" x2="1155.2" y2="1918.88" stroke="#000" stroke-width="3.05" stroke-linecap="butt"/>
<line x1="1155.2" y1="1997.92" x2="1155.2" y2="2038.09" stroke="#000" stroke-width="3.05" stroke-linecap="butt"/>
<line x1="1139.7" y1="1875.77" x2="1170.7" y2="1875.77" stroke="#000" stroke-width="3.05" stroke-linecap="butt"/>
<line x1="1139.7" y1="2038.09" x2="1170.7" y2="2038.09" stroke="#000" stroke-width="3.05" stroke-linecap="butt"/>
<rect x="1127.19" y="1920.43" width="55.61" height="75.94" fill="#c8c8c8" stroke="#000" stroke-width="3.1"/>
<line x1="1127.19" y1="1982.22" x2="1182.81" y2="1982.22" stroke="#000" stroke-width="3.1" stroke-linecap="butt"/>
<line x1="1243.46" y1="1909.97" x2="1243.46" y2="1941.76" stroke="#000" stroke-width="3.05" stroke-linecap="butt"/>
<line x1="1243.46" y1="2026.34" x2="1243.46" y2="2040.49" stroke="#000" stroke-width="3.05" stroke-linecap="butt"/>
<line x1="1227.96" y1="1909.97" x2="1258.96" y2="1909.97" stroke="#000" stroke-width="3.05" stroke-linecap="butt"/>
<line x1="1227.96" y1="2040.49" x2="1258.96" y2="2040.49" stroke="#000" stroke-width="3.05" stroke-linecap="butt"/>
<rect x="1215.33" y="1943.31" width="55.86" height="81.48" fill="#c6dffc" stroke="#000" stroke-width="3.1"/>
<line x1="1215.33" y1="1983.9" x2="1271.19" y2="1983.9" stroke="#000" stroke-width="3.1" stroke-linecap="butt"/>
<line x1="1154.96" y1="1875.77" x2="1243.34" y2="1933.33" stroke="#b4b4b4" stroke-width="1.3" stroke-linecap="butt"/>
<line x1="1154.96" y1="1915.27" x2="1243.34" y2="1909.97" stroke="#b4b4b4" stroke-width="1.3" stroke-linecap="butt"/>
<line x1="1154.96" y1="1920.08" x2="1243.34" y2="1999.55" stroke="#b4b4b4" stroke-width="1.3" stroke-linecap="butt"/>
<line x1="1154.96" y1="1959.82" x2="1243.34" y2="2010.39" stroke="#b4b4b4" stroke-width="1.3" stroke-linecap="butt"/>
<line x1="1154.96" y1="1982.22" x2="1243.34" y2="1942.96" stroke="#b4b4b4" stroke-width="1.3" stroke-linecap="butt"/>
<line x1="1154.96" y1="1992.33" x2="1243.34" y2="1968.25" stroke="#b4b4b4" stroke-width="1.3" stroke-linecap="butt"/>
<line x1="1154.96" y1="1992.33" x2="1243.34" y2="2024.84" stroke="#b4b4b4" stroke-width="1.3" stroke-linecap="butt"/>
<line x1="1154.96" y1="1996.42" x2="1243.34" y2="2040.49" stroke="#b4b4b4" stroke-width="1.3" stroke-linecap="butt"/>
<line x1="1154.96" y1="2020.02" x2="1243.34" y2="1983.9" stroke="#b4b4b4" stroke-width="1.3" stroke-linecap="butt"/>
<line x1="1154.96" y1="2038.09" x2="1243.34" y2="2030.86" stroke="#b4b4b4" stroke-width="1.3" stroke-linecap="butt"/>
<line x1="1154.96" y1="1982.22" x2="1243.34" y2="1968.97" stroke="#b4b4b4" stroke-width="1.3" stroke-linecap="butt"/>
<line x1="1096.4" y1="1818.17" x2="1096.4" y2="2096.72" stroke="#000" stroke-width="3.05" stroke-linecap="butt"/>
<line x1="1094.88" y1="2095.2" x2="1302.3" y2="2095.2" stroke="#000" stroke-width="3.05" stroke-linecap="butt"/>
<line x1="1083.88" y1="2081.7" x2="1096.4" y2="2081.7" stroke="#000" stroke-width="3.05" stroke-linecap="butt"/>
<text x="1079.8" y="2089.68" font-size="22.3" text-anchor="end" stroke="#000" stroke-width="0.32">0</text>
<line x1="1083.88" y1="2016.2" x2="1096.4" y2="2016.2" stroke="#000" stroke-width="3.05" stroke-linecap="butt"/>
<text x="1079.8" y="2024.18" font-size="22.3" text-anchor="end" stroke="#000" stroke-width="0.32">50</text>
<line x1="1083.88" y1="1950.7" x2="1096.4" y2="1950.7" stroke="#000" stroke-width="3.05" stroke-linecap="butt"/>
<text x="1079.8" y="1958.68" font-size="22.3" text-anchor="end" stroke="#000" stroke-width="0.32">100</text>
<line x1="1083.88" y1="1885.2" x2="1096.4" y2="1885.2" stroke="#000" stroke-width="3.05" stroke-linecap="butt"/>
<text x="1079.8" y="1893.18" font-size="22.3" text-anchor="end" stroke="#000" stroke-width="0.32">150</text>
<line x1="1083.88" y1="1819.7" x2="1096.4" y2="1819.7" stroke="#000" stroke-width="3.05" stroke-linecap="butt"/>
<text x="1079.8" y="1827.68" font-size="22.3" text-anchor="end" stroke="#000" stroke-width="0.32">200</text>
<line x1="1154.96" y1="2095.2" x2="1154.96" y2="2106.2" stroke="#000" stroke-width="3.05" stroke-linecap="butt"/>
<text x="1154.96" y="2131.5" font-size="22.7" text-anchor="middle" stroke="#000" stroke-width="0.32">Saline</text>
<line x1="1243.34" y1="2095.2" x2="1243.34" y2="2106.2" stroke="#000" stroke-width="3.05" stroke-linecap="butt"/>
<text x="1243.34" y="2131.5" font-size="22.7" text-anchor="middle" stroke="#000" stroke-width="0.32">CNO</text>
<path d="M1154.96 1859.9 L1154.96 1822.6 L1243.34 1822.6 L1243.34 1894.8" fill="none" stroke="#000" stroke-width="3.05" stroke-linejoin="round" stroke-linejoin="miter"/>
<text x="1199" y="1807.8" font-size="21.3" text-anchor="middle" stroke="#000" stroke-width="0.32">ns</text>
<text x="1027.3" y="1955" font-size="22.3" text-anchor="middle" stroke="#000" stroke-width="0.32" transform="rotate(-90 1027.3 1955)">Investigation (s)</text>
<line x1="1470.02" y1="1892.15" x2="1470.02" y2="1924.9" stroke="#000" stroke-width="3.05" stroke-linecap="butt"/>
<line x1="1470.02" y1="1977.45" x2="1470.02" y2="2062.17" stroke="#000" stroke-width="3.05" stroke-linecap="butt"/>
<line x1="1454.52" y1="1892.15" x2="1485.52" y2="1892.15" stroke="#000" stroke-width="3.05" stroke-linecap="butt"/>
<line x1="1454.52" y1="2062.17" x2="1485.52" y2="2062.17" stroke="#000" stroke-width="3.05" stroke-linecap="butt"/>
<rect x="1442.01" y="1926.45" width="55.61" height="49.45" fill="#c8c8c8" stroke="#000" stroke-width="3.1"/>
<line x1="1442.01" y1="1963.91" x2="1497.63" y2="1963.91" stroke="#000" stroke-width="3.1" stroke-linecap="butt"/>
<line x1="1558.52" y1="1905.15" x2="1558.52" y2="1938.15" stroke="#000" stroke-width="3.05" stroke-linecap="butt"/>
<line x1="1558.52" y1="2009.96" x2="1558.52" y2="2042.42" stroke="#000" stroke-width="3.05" stroke-linecap="butt"/>
<line x1="1543.02" y1="1905.15" x2="1574.02" y2="1905.15" stroke="#000" stroke-width="3.05" stroke-linecap="butt"/>
<line x1="1543.02" y1="2042.42" x2="1574.02" y2="2042.42" stroke="#000" stroke-width="3.05" stroke-linecap="butt"/>
<rect x="1530.63" y="1939.7" width="55.37" height="68.71" fill="#c6dffc" stroke="#000" stroke-width="3.1"/>
<line x1="1530.63" y1="1983.9" x2="1586.01" y2="1983.9" stroke="#000" stroke-width="3.1" stroke-linecap="butt"/>
<line x1="1469.78" y1="1892.15" x2="1558.4" y2="1983.9" stroke="#b4b4b4" stroke-width="1.3" stroke-linecap="butt"/>
<line x1="1469.78" y1="1911.66" x2="1558.4" y2="1905.15" stroke="#b4b4b4" stroke-width="1.3" stroke-linecap="butt"/>
<line x1="1469.78" y1="1926.1" x2="1558.4" y2="1976.68" stroke="#b4b4b4" stroke-width="1.3" stroke-linecap="butt"/>
<line x1="1469.78" y1="1938.15" x2="1558.4" y2="1976.68" stroke="#b4b4b4" stroke-width="1.3" stroke-linecap="butt"/>
<line x1="1469.78" y1="1939.35" x2="1558.4" y2="1989.92" stroke="#b4b4b4" stroke-width="1.3" stroke-linecap="butt"/>
<line x1="1469.78" y1="1963.91" x2="1558.4" y2="2008.46" stroke="#b4b4b4" stroke-width="1.3" stroke-linecap="butt"/>
<line x1="1469.78" y1="1975.95" x2="1558.4" y2="1939.35" stroke="#b4b4b4" stroke-width="1.3" stroke-linecap="butt"/>
<line x1="1469.78" y1="1975.95" x2="1558.4" y2="2042.42" stroke="#b4b4b4" stroke-width="1.3" stroke-linecap="butt"/>
<line x1="1469.78" y1="1977.88" x2="1558.4" y2="1981.49" stroke="#b4b4b4" stroke-width="1.3" stroke-linecap="butt"/>
<line x1="1469.78" y1="1995.94" x2="1558.4" y2="1924.9" stroke="#b4b4b4" stroke-width="1.3" stroke-linecap="butt"/>
<line x1="1469.78" y1="2062.17" x2="1558.4" y2="2008.46" stroke="#b4b4b4" stroke-width="1.3" stroke-linecap="butt"/>
<line x1="1469.78" y1="1963.91" x2="1558.4" y2="2015.21" stroke="#b4b4b4" stroke-width="1.3" stroke-linecap="butt"/>
<line x1="1410.8" y1="1818.17" x2="1410.8" y2="2096.72" stroke="#000" stroke-width="3.05" stroke-linecap="butt"/>
<line x1="1409.27" y1="2095.2" x2="1617.2" y2="2095.2" stroke="#000" stroke-width="3.05" stroke-linecap="butt"/>
<line x1="1398.27" y1="2081.7" x2="1410.8" y2="2081.7" stroke="#000" stroke-width="3.05" stroke-linecap="butt"/>
<text x="1394.2" y="2089.68" font-size="22.3" text-anchor="end" stroke="#000" stroke-width="0.32">0</text>
<line x1="1398.27" y1="2016.2" x2="1410.8" y2="2016.2" stroke="#000" stroke-width="3.05" stroke-linecap="butt"/>
<text x="1394.2" y="2024.18" font-size="22.3" text-anchor="end" stroke="#000" stroke-width="0.32">10</text>
<line x1="1398.27" y1="1950.7" x2="1410.8" y2="1950.7" stroke="#000" stroke-width="3.05" stroke-linecap="butt"/>
<text x="1394.2" y="1958.68" font-size="22.3" text-anchor="end" stroke="#000" stroke-width="0.32">20</text>
<line x1="1398.27" y1="1885.2" x2="1410.8" y2="1885.2" stroke="#000" stroke-width="3.05" stroke-linecap="butt"/>
<text x="1394.2" y="1893.18" font-size="22.3" text-anchor="end" stroke="#000" stroke-width="0.32">30</text>
<line x1="1398.27" y1="1819.7" x2="1410.8" y2="1819.7" stroke="#000" stroke-width="3.05" stroke-linecap="butt"/>
<text x="1394.2" y="1827.68" font-size="22.3" text-anchor="end" stroke="#000" stroke-width="0.32">40</text>
<line x1="1469.78" y1="2095.2" x2="1469.78" y2="2106.2" stroke="#000" stroke-width="3.05" stroke-linecap="butt"/>
<text x="1469.78" y="2131.5" font-size="22.7" text-anchor="middle" stroke="#000" stroke-width="0.32">Saline</text>
<line x1="1558.4" y1="2095.2" x2="1558.4" y2="2106.2" stroke="#000" stroke-width="3.05" stroke-linecap="butt"/>
<text x="1558.4" y="2131.5" font-size="22.7" text-anchor="middle" stroke="#000" stroke-width="0.32">CNO</text>
<path d="M1469.78 1876.7 L1469.78 1825.4 L1558.4 1825.4 L1558.4 1888.8" fill="none" stroke="#000" stroke-width="3.05" stroke-linejoin="round" stroke-linejoin="miter"/>
<text x="1514.3" y="1810.9" font-size="21.3" text-anchor="middle" stroke="#000" stroke-width="0.32">ns</text>
<text x="1355.4" y="1955" font-size="22.3" text-anchor="middle" stroke="#000" stroke-width="0.32" transform="rotate(-90 1355.4 1955)">Bouts of investigation</text>
<text x="680.6" y="1747.9" font-size="25" text-anchor="middle" fill="#7a1f17" stroke="#7a1f17" stroke-width="0.32">Targeted allolicking</text>
<text x="680.4" y="1778.6" font-size="25.2" text-anchor="middle" fill="#7a1f17" stroke="#7a1f17" stroke-width="0.32" textLength="260.6" lengthAdjust="spacingAndGlyphs">of melittin-injected paw</text>
<text x="1317.2" y="1764" font-size="25" text-anchor="middle" fill="#3b86e0" stroke="#3b86e0" stroke-width="0.32">Investigation</text>
</svg>
</body></html>
